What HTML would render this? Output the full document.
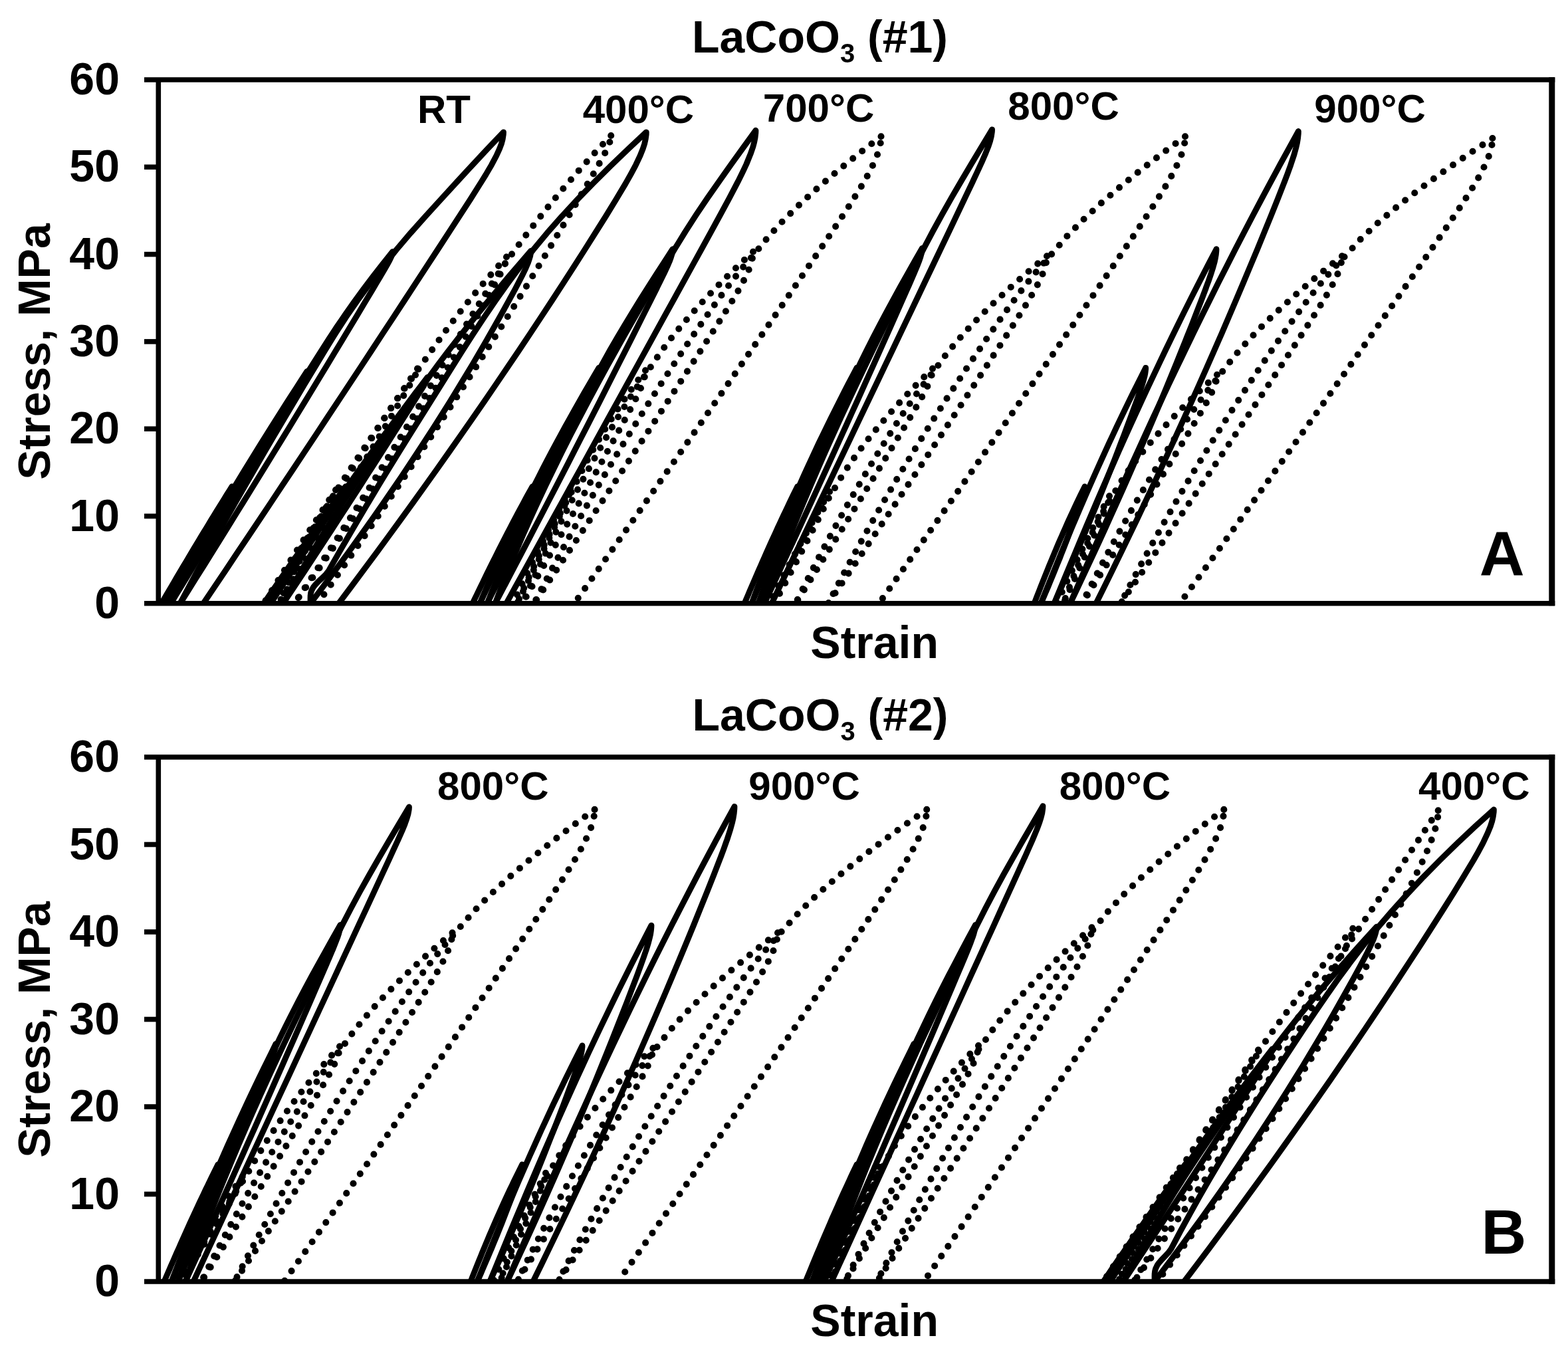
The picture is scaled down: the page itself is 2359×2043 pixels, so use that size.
<!DOCTYPE html>
<html lang="en"><head><meta charset="utf-8">
<title>LaCoO3 stress-strain hysteresis</title>
<style>html,body{margin:0;padding:0;background:#fff}body{width:2359px;height:2043px;overflow:hidden}svg{display:block}text{font-family:"Liberation Sans", Arial, Helvetica, sans-serif;font-weight:bold;fill:#000}.s{fill:none;stroke:#000;stroke-width:8.8;stroke-linejoin:round;stroke-linecap:round}.d{fill:none;stroke:#000;stroke-width:10.1;stroke-linecap:round;stroke-linejoin:round;stroke-dasharray:0 17.9}.f{fill:none;stroke:#000;stroke-width:7.6;stroke-linecap:butt;stroke-linejoin:miter}</style></head><body>
<svg width="2359" height="2043" viewBox="0 0 2359 2043">
<rect x="0" y="0" width="2359" height="2043" fill="#fff"/>
<g id="panelA">
<clipPath id="clipA"><rect x="238.3" y="120" width="2096.5" height="790.8"/></clipPath>
<g clip-path="url(#clipA)">
<path class="d" d="M505 737.1L501 743.2L497.1 749.3L493.1 755.4L489.2 761.5L485.2 767.6L481.3 773.7L477.4 779.8L473.5 785.9L469.6 792L465.7 798.1L461.8 804.2L457.9 810.3L454.1 816.4L450.2 822.5L446.3 828.6L442.5 834.6L438.7 840.7L434.8 846.8L431 852.9L427.2 859L423.4 865.1L419.6 871.2L415.8 877.3L412 883.4L408.3 889.5L404.5 895.6L400.7 901.7L397 907.8"/>
<path class="d" stroke-dashoffset="7.9" d="M505 737.1L504.9 738L504.5 739.7L503.7 741.4L502.9 743.1L502.8 743.2L501.5 745.6L499.5 749.1L499.4 749.3L497.5 752.5L495.8 755.4L495.5 755.9L492.2 761.5L488.7 767.6L485.1 773.7L481.5 779.8L477.9 785.9L474.3 792L470.7 798.1L467.1 804.2L463.5 810.3L459.9 816.4L456.2 822.5L452.6 828.6L449 834.6L445.4 840.7L441.7 846.8L438.1 852.9L434.4 859L430.8 865.1L427.1 871.2L423.4 877.3L419.7 883.4L416.1 889.5L412.4 895.6L408.7 901.7L405 907.8"/>
<path class="d" d="M628 554.6L619.5 567.2L611 579.8L602.6 592.4L594.1 605.1L585.7 617.7L577.3 630.3L568.9 642.9L560.4 655.5L552 668.1L543.6 680.7L535.2 693.4L527 706L518.8 718.6L510.7 731.2L502.8 743.8L494.9 756.4L487.1 769L479.3 781.7L471.6 794.3L463.9 806.9L456.3 819.5L448.8 832.1L441.3 844.7L433.9 857.3L426.6 870L419.3 882.6L412.1 895.2L405 907.8"/>
<path class="d" stroke-dashoffset="7.9" d="M628 554.6L627.8 556.4L626.9 559.9L625.3 563.4L623.6 567L623.4 567.2L620.6 572.3L616.5 579.3L616.2 579.8L612.4 586.4L608.8 592.4L608.2 593.5L601.3 605.1L593.9 617.7L586.4 630.3L578.9 642.9L571.4 655.5L563.9 668.1L556.3 680.7L548.8 693.4L541.2 706L533.7 718.6L526.1 731.2L518.5 743.8L510.9 756.4L503.3 769L495.7 781.7L488.1 794.3L480.5 806.9L472.8 819.5L465.2 832.1L457.5 844.7L449.8 857.3L442.1 870L434.4 882.6L426.7 895.2L419 907.8"/>
<path class="d" d="M762 386.5L745.4 405.2L729.3 423.8L713.7 442.4L698.6 461L684.1 479.6L670.1 498.2L656.7 516.9L643.5 535.5L630.4 554.1L617 572.7L603.7 591.3L590.8 609.9L578.7 628.6L566.8 647.2L555 665.8L543.3 684.4L531.8 703L520.4 721.6L509.3 740.3L498.3 758.9L487.5 777.5L476.9 796.1L466.6 814.7L456.5 833.3L446.7 852L437.2 870.6L427.9 889.2L419 907.8"/>
<path class="d" stroke-dashoffset="7.9" d="M762 386.5L761.8 389.1L760.6 394.4L758.7 399.6L756.5 404.8L756.3 405.2L752.6 412.6L747.2 423L746.8 423.8L741.5 433.5L736.7 442.4L735.8 443.9L726.4 461L716 479.6L705.5 498.2L694.8 516.9L684 535.5L673.1 554.1L662.1 572.7L651 591.3L639.7 609.9L628.4 628.6L616.9 647.2L605.2 665.8L593.5 684.4L581.6 703L569.6 721.6L557.5 740.3L545.3 758.9L532.9 777.5L520.4 796.1L507.8 814.7L495.1 833.3L482.3 852L469.3 870.6L456.2 889.2L443 907.8"/>
<path class="d" d="M919.2 204L895.5 229.2L872.8 254.3L851 279.4L829.9 304.6L809.8 329.7L790.4 354.8L771.7 380L754.1 405.1L737.6 430.2L721.8 455.4L706.3 480.5L691.2 505.6L676.4 530.8L662 555.9L647.6 581.1L633.1 606.2L618.5 631.3L603.3 656.5L588 681.6L572.4 706.7L556.8 731.9L541 757L525 782.1L508.9 807.3L492.7 832.4L476.3 857.5L459.7 882.7L443 907.8"/>
<path class="d" stroke-dashoffset="7.9" d="M919.2 204L918.9 207.6L917.1 214.6L914.3 221.6L911 228.7L910.7 229.2L905.4 239.2L897.5 253.3L896.9 254.3L889.4 267.4L882.3 279.4L881.2 281.4L867.6 304.6L852.8 329.7L837.8 354.8L822.7 380L807.5 405.1L792.2 430.2L776.7 455.4L761.1 480.5L745.5 505.6L729.6 530.8L713.7 555.9L697.7 581.1L681.5 606.2L665.2 631.3L648.8 656.5L632.2 681.6L615.6 706.7L598.8 731.9L581.9 757L564.9 782.1L547.8 807.3L530.5 832.4L513.1 857.5L495.6 882.7L478 907.8"/>
<path class="d" d="M858 734.5L854.7 740.7L851.4 746.9L848.1 753.1L844.9 759.2L841.6 765.4L838.4 771.6L835.2 777.8L832 784L828.9 790.2L825.7 796.4L822.6 802.6L819.5 808.8L816.4 815L813.3 821.1L810.2 827.3L807.2 833.5L804.1 839.7L801.1 845.9L798.1 852.1L795.2 858.3L792.2 864.5L789.3 870.7L786.3 876.9L783.4 883L780.6 889.2L777.7 895.4L774.8 901.6L772 907.8"/>
<path class="d" stroke-dashoffset="7.9" d="M858 734.5L858 735.4L857.8 737.1L857.6 738.8L857.2 740.6L857.2 740.7L856.5 743.1L855.4 746.6L855.3 746.9L854.1 750.1L852.8 753.1L852.6 753.5L850.1 759.2L847.3 765.4L844.4 771.6L841.4 777.8L838.5 784L835.5 790.2L832.6 796.4L829.6 802.6L826.6 808.8L823.6 815L820.6 821.1L817.6 827.3L814.6 833.5L811.6 839.7L808.6 845.9L805.5 852.1L802.5 858.3L799.4 864.5L796.4 870.7L793.4 876.9L790.3 883L787.2 889.2L784.2 895.4L781.1 901.6L778 907.8"/>
<path class="d" d="M971 557.2L961.6 569.7L952.4 582.3L943.5 594.8L934.9 607.3L926.6 619.8L918.5 632.4L910.7 644.9L903.2 657.4L896 669.9L889 682.4L882.3 695L875.9 707.5L869.7 720L863.9 732.5L857.2 745L850.5 757.6L843.9 770.1L837.4 782.6L831 795.1L824.7 807.6L818.5 820.2L812.4 832.7L806.5 845.2L800.6 857.7L794.8 870.2L789.1 882.8L783.5 895.3L778 907.8"/>
<path class="d" stroke-dashoffset="7.9" d="M971 557.2L971 559L970.6 562.5L970 566L969.2 569.5L969.1 569.7L967.6 574.8L964.9 581.8L964.7 582.3L961.9 588.8L959.1 594.8L958.6 595.8L952.8 607.3L946.2 619.8L939.5 632.4L932.7 644.9L925.9 657.4L919 669.9L912.1 682.4L905.3 695L898.4 707.5L891.4 720L884.5 732.5L877.6 745L870.6 757.6L863.6 770.1L856.6 782.6L849.6 795.1L842.6 807.6L835.6 820.2L828.6 832.7L821.5 845.2L814.4 857.7L807.3 870.2L800.2 882.8L793.1 895.3L786 907.8"/>
<path class="d" d="M1133 378.7L1112.8 397.6L1093.3 416.5L1074.6 435.4L1056.7 454.3L1039.6 473.2L1023.4 492L1008.1 510.9L994 529.8L981.2 548.7L968.5 567.6L955.5 586.5L943.4 605.4L931.8 624.3L920.6 643.2L909.8 662.1L899.1 681L888.7 699.9L878.5 718.8L868.4 737.7L858.6 756.6L848.9 775.5L839.4 794.4L830 813.3L820.9 832.2L811.9 851.1L803.1 870L794.4 888.9L786 907.8"/>
<path class="d" stroke-dashoffset="7.9" d="M1133 378.7L1132.9 381.3L1132.3 386.6L1131.2 391.9L1129.7 397.2L1129.6 397.6L1126.9 405.1L1122.2 415.7L1121.8 416.5L1116.7 426.3L1111.7 435.4L1110.9 436.9L1100.6 454.3L1088.8 473.2L1076.9 492L1064.8 510.9L1052.6 529.8L1040.4 548.7L1028.2 567.6L1015.9 586.5L1003.6 605.4L991.3 624.3L979 643.2L966.6 662.1L954.2 681L941.8 699.9L929.3 718.8L916.9 737.7L904.4 756.6L891.8 775.5L879.3 794.4L866.7 813.3L854.1 832.2L841.5 851.1L828.9 870L816.2 888.9L803.5 907.8"/>
<path class="d" d="M1325.5 205.3L1293 230.4L1262 255.5L1232.6 280.6L1204.9 305.7L1179.3 330.8L1156.2 355.9L1135.9 381L1114.5 406L1095 431.1L1076.6 456.2L1058.9 481.3L1041.6 506.4L1024.7 531.5L1008.1 556.6L991.7 581.7L975.7 606.7L959.9 631.8L944.3 656.9L929 682L914 707.1L899.3 732.2L884.8 757.3L870.6 782.4L856.6 807.4L842.9 832.5L829.5 857.6L816.4 882.7L803.5 907.8"/>
<path class="d" stroke-dashoffset="7.9" d="M1325.5 205.3L1325.4 208.9L1324.6 215.9L1323 222.9L1320.9 229.9L1320.8 230.4L1316.9 240.5L1310.3 254.5L1309.8 255.5L1302.7 268.6L1295.7 280.6L1294.5 282.6L1280.1 305.7L1263.7 330.8L1246.9 355.9L1230 381L1212.9 406L1195.8 431.1L1178.7 456.2L1161.5 481.3L1144.3 506.4L1127 531.5L1109.7 556.6L1092.4 581.7L1075.1 606.7L1057.7 631.8L1040.2 656.9L1022.8 682L1005.3 707.1L987.7 732.2L970.2 757.3L952.6 782.4L934.9 807.4L917.2 832.5L899.5 857.6L881.8 882.7L864 907.8"/>
<path class="d" d="M1248 739.7L1244.5 745.7L1241.1 751.7L1237.7 757.7L1234.3 763.7L1230.9 769.7L1227.5 775.7L1224.2 781.8L1220.8 787.8L1217.5 793.8L1214.2 799.8L1210.9 805.8L1207.7 811.8L1204.4 817.8L1201.2 823.8L1198 829.8L1194.8 835.8L1191.6 841.8L1188.5 847.8L1185.4 853.8L1182.2 859.8L1179.2 865.8L1176.1 871.8L1173 877.8L1170 883.8L1167 889.8L1164 895.8L1161 901.8L1158 907.8"/>
<path class="d" stroke-dashoffset="7.9" d="M1248 739.7L1248 740.6L1247.8 742.3L1247.6 743.9L1247.2 745.6L1247.1 745.7L1246.5 748.1L1245.3 751.5L1245.2 751.7L1243.9 754.9L1242.6 757.7L1242.4 758.2L1239.8 763.7L1236.9 769.7L1233.9 775.7L1230.8 781.8L1227.8 787.8L1224.7 793.8L1221.6 799.8L1218.5 805.8L1215.4 811.8L1212.3 817.8L1209.2 823.8L1206.1 829.8L1203 835.8L1199.8 841.8L1196.7 847.8L1193.6 853.8L1190.4 859.8L1187.3 865.8L1184.1 871.8L1180.9 877.8L1177.8 883.8L1174.6 889.8L1171.4 895.8L1168.2 901.8L1165 907.8"/>
<path class="d" d="M1403 554.6L1390.2 567.2L1377.7 579.8L1365.6 592.4L1353.8 605.1L1342.4 617.7L1331.4 630.3L1320.7 642.9L1310.3 655.5L1300.4 668.1L1290.9 680.7L1281.8 693.4L1273.2 706L1265.2 718.6L1257.7 731.2L1250.3 743.8L1242.3 756.4L1234.6 769L1227.3 781.7L1220.3 794.3L1213.5 806.9L1206.9 819.5L1200.5 832.1L1194.3 844.7L1188.2 857.3L1182.2 870L1176.3 882.6L1170.6 895.2L1165 907.8"/>
<path class="d" stroke-dashoffset="7.9" d="M1403 554.6L1403 556.4L1402.6 559.9L1401.9 563.4L1401 567L1400.9 567.2L1399.2 572.3L1396.2 579.3L1396 579.8L1392.8 586.4L1389.7 592.4L1389.2 593.5L1382.7 605.1L1375.4 617.7L1367.9 630.3L1360.4 642.9L1352.8 655.5L1345.1 668.1L1337.5 680.7L1329.8 693.4L1322.1 706L1314.4 718.6L1306.7 731.2L1299 743.8L1291.2 756.4L1283.4 769L1275.7 781.7L1267.9 794.3L1260.1 806.9L1252.2 819.5L1244.4 832.1L1236.5 844.7L1228.7 857.3L1220.8 870L1212.9 882.6L1204.9 895.2L1197 907.8"/>
<path class="d" d="M1575 385.2L1552.6 403.9L1531.1 422.6L1510.5 441.2L1490.7 459.9L1471.9 478.5L1454.1 497.2L1437.6 515.9L1422.4 534.5L1408.9 553.2L1394.2 571.9L1380.4 590.5L1367.3 609.2L1354.8 627.8L1342.8 646.5L1331 665.2L1319.5 683.8L1308.2 702.5L1297.1 721.2L1286.2 739.8L1275.5 758.5L1265 777.2L1254.7 795.8L1244.6 814.5L1234.7 833.1L1225 851.8L1215.5 870.5L1206.1 889.1L1197 907.8"/>
<path class="d" stroke-dashoffset="7.9" d="M1575 385.2L1574.9 387.8L1574.3 393.1L1573.2 398.3L1571.7 403.5L1571.6 403.9L1568.9 411.4L1564.2 421.8L1563.8 422.6L1558.8 432.3L1553.8 441.2L1552.9 442.7L1542.6 459.9L1530.9 478.5L1519 497.2L1506.9 515.9L1494.7 534.5L1482.6 553.2L1470.3 571.9L1458.1 590.5L1445.8 609.2L1433.5 627.8L1421.2 646.5L1408.8 665.2L1396.5 683.8L1384.1 702.5L1371.6 721.2L1359.2 739.8L1346.7 758.5L1334.2 777.2L1321.7 795.8L1309.1 814.5L1296.6 833.1L1284 851.8L1271.3 870.5L1258.7 889.1L1246 907.8"/>
<path class="d" d="M1783 205.3L1749 230.4L1716.5 255.5L1685.7 280.6L1656.5 305.7L1629.4 330.8L1604.7 355.9L1583.3 381L1561.4 406L1541.1 431.1L1522.2 456.2L1504.1 481.3L1486.6 506.4L1469.5 531.5L1452.6 556.6L1436.1 581.7L1419.8 606.7L1403.8 631.8L1388.1 656.9L1372.7 682L1357.5 707.1L1342.6 732.2L1328 757.3L1313.6 782.4L1299.6 807.4L1285.8 832.5L1272.2 857.6L1259 882.7L1246 907.8"/>
<path class="d" stroke-dashoffset="7.9" d="M1783 205.3L1782.9 208.9L1782.1 215.9L1780.5 222.9L1778.4 229.9L1778.3 230.4L1774.4 240.5L1767.8 254.5L1767.3 255.5L1760.3 268.6L1753.3 280.6L1752.1 282.6L1737.6 305.7L1721.3 330.8L1704.6 355.9L1687.7 381L1670.7 406L1653.6 431.1L1636.5 456.2L1619.4 481.3L1602.2 506.4L1585 531.5L1567.7 556.6L1550.4 581.7L1533.1 606.7L1515.8 631.8L1498.4 656.9L1480.9 682L1463.5 707.1L1446 732.2L1428.4 757.3L1410.9 782.4L1393.3 807.4L1375.6 832.5L1358 857.6L1340.2 882.7L1322.5 907.8"/>
<path class="d" d="M1669 746.3L1666 752.1L1662.9 757.8L1659.9 763.6L1656.9 769.4L1654 775.1L1651 780.9L1648.1 786.7L1645.1 792.4L1642.2 798.2L1639.3 804L1636.5 809.7L1633.6 815.5L1630.7 821.3L1627.9 827.1L1625.1 832.8L1622.3 838.6L1619.5 844.4L1616.8 850.1L1614 855.9L1611.3 861.7L1608.6 867.4L1605.9 873.2L1603.2 879L1600.5 884.7L1597.9 890.5L1595.2 896.3L1592.6 902L1590 907.8"/>
<path class="d" stroke-dashoffset="7.9" d="M1669 746.3L1669 747.1L1668.9 748.7L1668.6 750.3L1668.3 752L1668.3 752.1L1667.7 754.4L1666.7 757.6L1666.7 757.8L1665.6 760.8L1664.5 763.6L1664.4 764.1L1662.2 769.4L1659.8 775.1L1657.2 780.9L1654.7 786.7L1652.2 792.4L1649.6 798.2L1647 804L1644.5 809.7L1641.9 815.5L1639.3 821.3L1636.7 827.1L1634.2 832.8L1631.6 838.6L1629 844.4L1626.4 850.1L1623.7 855.9L1621.1 861.7L1618.5 867.4L1615.9 873.2L1613.2 879L1610.6 884.7L1608 890.5L1605.3 896.3L1602.7 902L1600 907.8"/>
<path class="d" d="M1831 563.8L1817.6 576.1L1804.6 588.4L1791.9 600.7L1779.6 612.9L1767.6 625.2L1756 637.5L1744.8 649.8L1734 662.1L1723.6 674.4L1713.6 686.7L1704.2 698.9L1695.3 711.2L1687.2 723.5L1679.7 735.8L1672.8 748.1L1665.2 760.4L1658.1 772.7L1651.6 784.9L1645.4 797.2L1639.6 809.5L1634.1 821.8L1628.7 834.1L1623.6 846.4L1618.6 858.7L1613.7 870.9L1609 883.2L1604.5 895.5L1600 907.8"/>
<path class="d" stroke-dashoffset="7.9" d="M1831 563.8L1831 565.5L1830.6 569L1829.9 572.4L1829 575.8L1828.9 576.1L1827.2 581L1824.3 587.9L1824.1 588.4L1821 594.8L1817.9 600.7L1817.4 601.6L1811 612.9L1803.8 625.2L1796.4 637.5L1789 649.8L1781.5 662.1L1774 674.4L1766.4 686.7L1758.9 698.9L1751.3 711.2L1743.7 723.5L1736.1 735.8L1728.5 748.1L1720.8 760.4L1713.2 772.7L1705.5 784.9L1697.8 797.2L1690.1 809.5L1682.4 821.8L1674.7 834.1L1667 846.4L1659.2 858.7L1651.4 870.9L1643.6 883.2L1635.8 895.5L1628 907.8"/>
<path class="d" d="M2019 385.2L1995.7 403.9L1973.2 422.6L1951.6 441.2L1930.9 459.9L1911.1 478.5L1892.2 497.2L1874.6 515.9L1858.2 534.5L1843.5 553.2L1829.3 571.9L1814.6 590.5L1801 609.2L1788.1 627.8L1775.7 646.5L1763.7 665.2L1752 683.8L1740.5 702.5L1729.3 721.2L1718.3 739.8L1707.4 758.5L1696.8 777.2L1686.4 795.8L1676.1 814.5L1666.1 833.1L1656.3 851.8L1646.7 870.5L1637.2 889.1L1628 907.8"/>
<path class="d" stroke-dashoffset="7.9" d="M2019 385.2L2018.9 387.8L2018.3 393.1L2017.2 398.3L2015.7 403.5L2015.6 403.9L2012.8 411.4L2008 421.8L2007.7 422.6L2002.6 432.3L1997.5 441.2L1996.6 442.7L1986.2 459.9L1974.4 478.5L1962.3 497.2L1950.1 515.9L1937.8 534.5L1925.4 553.2L1913.1 571.9L1900.7 590.5L1888.2 609.2L1875.8 627.8L1863.3 646.5L1850.8 665.2L1838.3 683.8L1825.7 702.5L1813.2 721.2L1800.6 739.8L1787.9 758.5L1775.3 777.2L1762.6 795.8L1749.9 814.5L1737.2 833.1L1724.4 851.8L1711.6 870.5L1698.8 889.1L1686 907.8"/>
<path class="d" d="M2245.4 208L2207.7 233L2171.8 258L2137.7 283L2105.5 307.9L2075.6 332.9L2048.7 357.9L2025.9 382.9L2002.5 407.9L1981.5 432.9L1962.3 457.9L1944.1 482.9L1926.4 507.9L1909.2 532.9L1892.3 557.9L1875.7 582.9L1859.4 607.9L1843.4 632.9L1827.6 657.9L1812.2 682.9L1797 707.8L1782.1 732.8L1767.6 757.8L1753.2 782.8L1739.2 807.8L1725.5 832.8L1712 857.8L1698.9 882.8L1686 907.8"/>
<path class="d" stroke-dashoffset="7.9" d="M2245.4 208L2245.3 211.5L2244.4 218.5L2242.9 225.5L2240.7 232.5L2240.6 233L2236.6 243L2229.9 257L2229.4 258L2222.2 271L2215 283L2213.8 285L2199.1 307.9L2182.4 332.9L2165.3 357.9L2148 382.9L2130.7 407.9L2113.2 432.9L2095.8 457.9L2078.2 482.9L2060.7 507.9L2043.1 532.9L2025.5 557.9L2007.8 582.9L1990.1 607.9L1972.4 632.9L1954.6 657.9L1936.8 682.9L1919 707.8L1901.1 732.8L1883.2 757.8L1865.3 782.8L1847.3 807.8L1829.3 832.8L1811.2 857.8L1793.1 882.8L1775 907.8"/>
<path class="s" d="M243 907.8L246.7 901.5L250.3 895.2L254 888.9L257.7 882.7L261.4 876.4L265.1 870.1L268.8 863.8L272.5 857.5L276.2 851.2L280 845L283.7 838.7L287.4 832.4L291.2 826.1L295 819.8L298.8 813.5L302.5 807.3L306.3 801L310.2 794.7L314 788.4L317.8 782.1L321.7 775.8L325.5 769.6L329.4 763.3L333.3 757L337.2 750.7L341.1 744.4L345.1 738.1L349 731.9L348.9 732.7L348.4 734.5L347.6 736.3L346.7 738L346.7 738.1L345.3 740.7L343.4 744.2L343.2 744.4L341.4 747.7L339.7 750.7L339.5 751.2L336.2 757L332.7 763.3L329.2 769.6L325.7 775.8L322.2 782.1L318.6 788.4L315.1 794.7L311.5 801L308 807.3L304.4 813.5L300.8 819.8L297.3 826.1L293.7 832.4L290.1 838.7L286.5 845L282.9 851.2L279.2 857.5L275.6 863.8L272 870.1L268.3 876.4L264.7 882.7L261 888.9L257.4 895.2L253.7 901.5L250 907.8"/>
<path class="s" d="M250 907.8L257 895.3L264.1 882.9L271.3 870.4L278.4 857.9L285.6 845.4L292.9 833L300.2 820.5L307.5 808L314.9 795.5L322.2 783.1L329.7 770.6L337.2 758.1L344.7 745.6L352.2 733.2L359.8 720.7L367.4 708.2L375.1 695.8L382.8 683.3L390.5 670.8L398.3 658.3L406.1 645.9L414 633.4L421.9 620.9L429.8 608.4L437.8 596L445.8 583.5L453.9 571L462 558.5L461.8 560.3L460.7 563.8L459.1 567.3L457.3 570.8L457.1 571L454.3 576L450.3 583L450 583.5L446.3 590L442.8 596L442.2 597L435.6 608.4L428.3 620.9L421 633.4L413.7 645.9L406.4 658.3L399.1 670.8L391.8 683.3L384.4 695.8L377.1 708.2L369.7 720.7L362.3 733.2L354.9 745.6L347.4 758.1L340 770.6L332.5 783.1L325 795.5L317.5 808L310 820.5L302.5 833L294.9 845.4L287.4 857.9L279.8 870.4L272.2 882.9L264.6 895.3L257 907.8"/>
<path class="s" d="M257 907.8L267.5 888.9L278.1 870L288.8 851.1L299.6 832.2L310.4 813.3L321.3 794.4L332.3 775.5L343.4 756.6L354.5 737.7L365.7 718.8L377 699.9L388.4 681L399.8 662.1L411.3 643.2L422.9 624.3L434.6 605.4L446.4 586.5L458.3 567.6L470.2 548.7L482.1 529.8L494.2 510.9L506.6 492L519.4 473.2L532.7 454.3L546.5 435.4L560.8 416.5L575.4 397.6L590.5 378.7L590.2 381.3L588.5 386.6L586 391.9L583.1 397.2L582.9 397.6L578.6 405.1L572.3 415.7L571.9 416.5L566 426.3L560.6 435.4L559.7 436.9L549.3 454.3L538 473.2L526.7 492L515.3 510.9L503.9 529.8L492.5 548.7L481.1 567.6L469.6 586.5L458.1 605.4L446.6 624.3L435.1 643.2L423.5 662.1L411.9 681L400.3 699.9L388.7 718.8L377 737.7L365.3 756.6L353.6 775.5L341.9 794.4L330.1 813.3L318.4 832.2L306.6 851.1L294.7 870L282.9 888.9L271 907.8"/>
<path class="s" d="M271 907.8L284.4 882.5L298 857.2L311.8 831.8L325.8 806.5L339.9 781.2L354.2 755.9L368.7 730.5L383.3 705.2L398 679.9L412.8 654.6L427.8 629.3L442.8 603.9L457.9 578.6L473.2 553.3L488.4 528L504 502.6L520.4 477.3L537.9 452L556.4 426.7L575.9 401.4L596.1 376L617.6 350.7L640.2 325.4L663.2 300.1L686.4 274.7L709.7 249.4L733.4 224.1L757.5 198.8L757.3 202.3L756.2 209.4L754.3 216.5L751.6 223.6L751.4 224.1L746.8 234.2L739.3 248.4L738.7 249.4L731 262.6L723.5 274.7L722.2 276.8L707.5 300.1L691.1 325.4L674.7 350.7L658.2 376L641.6 401.4L625.1 426.7L608.5 452L591.9 477.3L575.2 502.6L558.6 528L541.9 553.3L525.2 578.6L508.5 603.9L491.7 629.3L475 654.6L458.2 679.9L441.4 705.2L424.5 730.5L407.7 755.9L390.8 781.2L373.9 806.5L356.9 831.8L340 857.2L323 882.5L306 907.8"/>
<path class="s" d="M397 907.8L401.3 901.5L405.5 895.2L409.8 888.9L414.1 882.7L418.4 876.4L422.7 870.1L427.1 863.8L431.4 857.5L435.7 851.2L440.1 845L444.4 838.7L448.8 832.4L453.2 826.1L457.6 819.8L462 813.5L466.4 807.3L470.8 801L475.2 794.7L479.7 788.4L484.1 782.1L488.6 775.8L493 769.6L497.5 763.3L502 757L506.5 750.7L511 744.4L515.5 738.1L520 731.9L519.9 732.7L519.3 734.5L518.4 736.3L517.4 738L517.3 738.1L515.8 740.7L513.6 744.2L513.4 744.4L511.3 747.7L509.4 750.7L509.1 751.2L505.4 757L501.4 763.3L497.4 769.6L493.4 775.8L489.4 782.1L485.3 788.4L481.3 794.7L477.2 801L473.2 807.3L469.1 813.5L465 819.8L460.9 826.1L456.8 832.4L452.7 838.7L448.6 845L444.5 851.2L440.4 857.5L436.2 863.8L432.1 870.1L427.9 876.4L423.8 882.7L419.6 888.9L415.4 895.2L411.2 901.5L407 907.8"/>
<path class="s" d="M407 907.8L414.6 895.7L422.2 883.5L430 871.4L437.7 859.2L445.6 847.1L453.5 834.9L461.5 822.8L469.5 810.6L477.6 798.5L485.7 786.3L494 774.2L502.2 762.1L510.5 749.9L518.9 737.8L527.3 725.6L535.8 713.5L544.4 701.3L553 689.2L561.7 677L570.5 664.9L579.4 652.7L588.3 640.6L597.2 628.5L606.3 616.3L615.4 604.2L624.5 592L633.7 579.9L643 567.7L642.8 569.4L641.7 572.8L639.9 576.2L638 579.6L637.9 579.9L634.9 584.7L630.6 591.5L630.3 592L626.4 598.3L622.7 604.2L622.1 605.1L615 616.3L607.3 628.5L599.6 640.6L591.9 652.7L584.2 664.9L576.4 677L568.7 689.2L560.9 701.3L553.1 713.5L545.3 725.6L537.4 737.8L529.6 749.9L521.7 762.1L513.8 774.2L505.9 786.3L498 798.5L490.1 810.6L482.1 822.8L474.2 834.9L466.2 847.1L458.2 859.2L450.2 871.4L442.1 883.5L434.1 895.7L426 907.8"/>
<path class="s" d="M426 907.8L436.4 888.9L447 869.9L457.8 851L469 832L480.3 813.1L491.9 794.1L503.7 775.2L515.7 756.2L527.9 737.3L540.4 718.4L553 699.4L565.7 680.5L578.7 661.5L591.8 642.6L605.1 623.6L618.5 604.7L632 585.7L645.7 566.8L659.6 547.9L673.9 528.9L688.6 510L703.6 491L718.9 472.1L734.4 453.1L750.2 434.2L766.2 415.2L782.4 396.3L798.7 377.3L798.6 380L797.7 385.3L796.1 390.6L794.2 395.9L794 396.3L790.8 403.9L785.6 414.5L785.2 415.2L780.2 425.1L775.4 434.2L774.6 435.7L765.1 453.1L754.6 472.1L744 491L733.2 510L722.2 528.9L711.1 547.9L699.7 566.8L688.2 585.7L676.6 604.7L664.8 623.6L652.8 642.6L640.6 661.5L628.2 680.5L615.7 699.4L603.1 718.4L590.2 737.3L577.2 756.2L564 775.2L550.7 794.1L537.1 813.1L523.5 832L509.6 851L495.6 869.9L481.4 888.9L467 907.8"/>
<path class="s" d="M467 907.8L467 903.9L467 899.9L467.1 896L467.6 892L468.9 888.1L471 884.2L472.1 882.5L473.9 880.2L478.8 875L484.5 869.7L490 864.5L494.1 859.2L495.3 857.2L509.7 831.8L524.4 806.5L539.2 781.2L554.2 755.9L569.4 730.5L584.8 705.2L600.4 679.9L616.1 654.6L631.9 629.3L647.9 603.9L663.7 578.6L679.5 553.3L695.5 528L711.7 502.6L728.4 477.3L745.6 452L763.6 426.7L782.3 401.4L802 376L823 350.7L845.3 325.4L868.8 300.1L893.4 274.7L918.9 249.4L945.2 224.1L972.3 198.8L972.2 202.3L971.2 209.4L969.6 216.5L967.3 223.6L967.1 224.1L963.1 234.2L956.4 248.4L955.9 249.4L948.8 262.6L942 274.7L940.8 276.8L926.9 300.1L911.4 325.4L895.5 350.7L879.5 376L863.3 401.4L847 426.7L830.5 452L813.8 477.3L797.1 502.6L780.2 528L763.1 553.3L745.9 578.6L728.6 603.9L711.1 629.3L693.5 654.6L675.7 679.9L657.8 705.2L639.8 730.5L621.6 755.9L603.3 781.2L584.8 806.5L566.2 831.8L547.4 857.2L528.5 882.5L509.5 907.8"/>
<path class="s" d="M711 907.8L714 901.5L717.1 895.2L720.1 888.9L723.1 882.7L726.2 876.4L729.2 870.1L732.3 863.8L735.4 857.5L738.5 851.2L741.6 845L744.8 838.7L747.9 832.4L751.1 826.1L754.3 819.8L757.5 813.5L760.7 807.3L763.9 801L767.2 794.7L770.5 788.4L773.8 782.1L777.1 775.8L780.4 769.6L783.8 763.3L787.2 757L790.6 750.7L794 744.4L797.5 738.1L801 731.9L801 732.7L800.7 734.5L800.2 736.3L799.6 738L799.5 738.1L798.5 740.7L797.1 744.2L796.9 744.4L795.5 747.7L794.2 750.7L793.9 751.2L791.4 757L788.5 763.3L785.7 769.6L782.9 775.8L780 782.1L777.2 788.4L774.3 794.7L771.5 801L768.6 807.3L765.8 813.5L762.9 819.8L760 826.1L757.1 832.4L754.2 838.7L751.3 845L748.4 851.2L745.5 857.5L742.6 863.8L739.7 870.1L736.7 876.4L733.8 882.7L730.9 888.9L727.9 895.2L725 901.5L722 907.8"/>
<path class="s" d="M722 907.8L727.3 895.1L732.7 882.5L738.2 869.8L743.8 857.2L749.4 844.5L755.1 831.8L761 819.2L766.8 806.5L772.8 793.9L778.8 781.2L784.9 768.5L791.1 755.9L797.3 743.2L803.7 730.5L810.1 717.9L816.5 705.2L823.1 692.6L829.8 679.9L836.5 667.2L843.4 654.6L850.3 641.9L857.3 629.3L864.4 616.6L871.6 603.9L878.8 591.3L886.1 578.6L893.5 566L901 553.3L900.9 555.1L900.3 558.6L899.2 562.2L898 565.7L897.9 566L895.8 571L892.6 578.1L892.4 578.6L889.3 585.2L886.5 591.3L886 592.3L880.5 603.9L874.5 616.6L868.5 629.3L862.5 641.9L856.4 654.6L850.4 667.2L844.3 679.9L838.2 692.6L832.2 705.2L826.1 717.9L819.9 730.5L813.8 743.2L807.7 755.9L801.5 768.5L795.4 781.2L789.2 793.9L783 806.5L776.8 819.2L770.6 831.8L764.3 844.5L758.1 857.2L751.8 869.8L745.6 882.5L739.3 895.1L733 907.8"/>
<path class="s" d="M733 907.8L740.6 888.8L748.4 869.7L756.4 850.7L764.6 831.6L773 812.6L781.6 793.6L790.4 774.5L799.3 755.5L808.4 736.5L817.7 717.4L827.1 698.4L836.7 679.3L846.3 660.3L856.2 641.3L866.1 622.2L876.2 603.2L886.3 584.1L896.6 565.1L907 546.1L917.6 527L928.6 508L939.9 489L951.4 469.9L963.2 450.9L975.2 431.8L987.3 412.8L999.6 393.8L1012 374.7L1011.9 377.4L1010.8 382.7L1009.2 388L1007.2 393.4L1007 393.8L1003.7 401.4L998.7 412L998.3 412.8L993.4 422.7L988.9 431.8L988.2 433.4L979.4 450.9L969.9 469.9L960.3 489L950.8 508L941.2 527L931.5 546.1L921.9 565.1L912.3 584.1L902.6 603.2L892.9 622.2L883.2 641.3L873.4 660.3L863.7 679.3L853.9 698.4L844.1 717.4L834.3 736.5L824.4 755.5L814.6 774.5L804.7 793.6L794.8 812.6L784.9 831.6L774.9 850.7L765 869.7L755 888.8L745 907.8"/>
<path class="s" d="M745 907.8L754.7 882.4L764.8 857L775.4 831.6L786.3 806.1L797.5 780.7L809.1 755.3L821.1 729.9L833.4 704.5L845.9 679.1L858.8 653.6L872 628.2L885.4 602.8L899 577.4L912.9 552L927 526.6L941.3 501.1L955.8 475.7L970.5 450.3L985.3 424.9L1000.3 399.5L1015.4 374.1L1031 348.6L1047.4 323.2L1064.5 297.8L1082.2 272.4L1100.2 247L1118.5 221.6L1137 196.2L1136.9 199.7L1136.1 206.8L1134.7 213.9L1132.8 221.1L1132.6 221.6L1129.1 231.7L1123.3 246L1122.9 247L1116.7 260.2L1110.7 272.4L1109.6 274.4L1097.4 297.8L1083.7 323.2L1069.8 348.6L1055.8 374.1L1041.8 399.5L1027.8 424.9L1013.8 450.3L999.8 475.7L985.8 501.1L971.8 526.6L957.8 552L943.8 577.4L929.8 602.8L915.8 628.2L901.8 653.6L887.8 679.1L873.8 704.5L859.7 729.9L845.7 755.3L831.7 780.7L817.7 806.1L803.7 831.6L789.7 857L775.7 882.4L761.7 907.8"/>
<path class="s" d="M1120 907.8L1122.7 901.5L1125.4 895.2L1128 888.9L1130.7 882.7L1133.4 876.4L1136.2 870.1L1138.9 863.8L1141.6 857.5L1144.4 851.2L1147.1 845L1149.9 838.7L1152.7 832.4L1155.5 826.1L1158.3 819.8L1161.1 813.5L1164 807.3L1166.9 801L1169.7 794.7L1172.7 788.4L1175.6 782.1L1178.5 775.8L1181.5 769.6L1184.5 763.3L1187.5 757L1190.5 750.7L1193.5 744.4L1196.6 738.1L1199.7 731.9L1199.7 732.7L1199.4 734.5L1199 736.3L1198.5 738L1198.4 738.1L1197.6 740.7L1196.3 744.2L1196.2 744.4L1194.9 747.7L1193.8 750.7L1193.6 751.2L1191.3 757L1188.9 763.3L1186.4 769.6L1183.9 775.8L1181.5 782.1L1179 788.4L1176.5 794.7L1174 801L1171.5 807.3L1169.1 813.5L1166.6 819.8L1164 826.1L1161.5 832.4L1159 838.7L1156.5 845L1154 851.2L1151.4 857.5L1148.9 863.8L1146.4 870.1L1143.8 876.4L1141.3 882.7L1138.7 888.9L1136.1 895.2L1133.6 901.5L1131 907.8"/>
<path class="s" d="M1131 907.8L1135.6 895.1L1140.3 882.5L1145.1 869.8L1150 857.2L1154.9 844.5L1159.9 831.8L1165 819.2L1170.2 806.5L1175.4 793.9L1180.7 781.2L1186.1 768.5L1191.5 755.9L1197 743.2L1202.6 730.5L1208.2 717.9L1214 705.2L1219.8 692.6L1225.7 679.9L1231.6 667.2L1237.7 654.6L1243.9 641.9L1250.1 629.3L1256.4 616.6L1262.8 603.9L1269.2 591.3L1275.7 578.6L1282.3 566L1289 553.3L1288.9 555.1L1288.4 558.6L1287.4 562.2L1286.3 565.7L1286.2 566L1284.4 571L1281.6 578.1L1281.4 578.6L1278.7 585.2L1276.2 591.3L1275.8 592.3L1270.9 603.9L1265.7 616.6L1260.4 629.3L1255.1 641.9L1249.7 654.6L1244.4 667.2L1239.1 679.9L1233.7 692.6L1228.4 705.2L1223 717.9L1217.6 730.5L1212.2 743.2L1206.8 755.9L1201.4 768.5L1195.9 781.2L1190.5 793.9L1185 806.5L1179.6 819.2L1174.1 831.8L1168.6 844.5L1163.1 857.2L1157.6 869.8L1152.1 882.5L1146.5 895.1L1141 907.8"/>
<path class="s" d="M1141 907.8L1147.7 888.7L1154.7 869.6L1161.8 850.5L1169.1 831.5L1176.5 812.4L1184.2 793.3L1191.9 774.2L1199.8 755.1L1207.9 736L1216.1 716.9L1224.4 697.9L1232.9 678.8L1241.4 659.7L1250.1 640.6L1258.9 621.5L1267.7 602.4L1276.7 583.3L1285.8 564.3L1294.9 545.2L1304.3 526.1L1314 507L1323.9 487.9L1334.1 468.8L1344.4 449.8L1354.9 430.7L1365.6 411.6L1376.4 392.5L1387.3 373.4L1387.2 376.1L1386.3 381.4L1384.8 386.8L1383 392.1L1382.9 392.5L1379.9 400.1L1375.4 410.8L1375.1 411.6L1370.8 421.5L1366.8 430.7L1366.1 432.2L1358.3 449.8L1349.9 468.8L1341.4 487.9L1332.9 507L1324.3 526.1L1315.8 545.2L1307.2 564.3L1298.7 583.3L1290.1 602.4L1281.4 621.5L1272.8 640.6L1264.1 659.7L1255.5 678.8L1246.8 697.9L1238.1 716.9L1229.4 736L1220.6 755.1L1211.8 774.2L1203.1 793.3L1194.3 812.4L1185.4 831.5L1176.6 850.5L1167.8 869.6L1158.9 888.7L1150 907.8"/>
<path class="s" d="M1150 907.8L1159.2 882.3L1168.7 856.9L1178.4 831.4L1188.4 805.9L1198.7 780.5L1209.2 755L1220 729.6L1231 704.1L1242.2 678.6L1253.6 653.2L1265.2 627.7L1277.1 602.2L1289 576.8L1301.2 551.3L1313.5 525.9L1326 500.4L1338.6 474.9L1351.3 449.5L1364.2 424L1377.1 398.5L1390.2 373.1L1403.6 347.6L1417.6 322.2L1432 296.7L1446.8 271.2L1461.9 245.8L1477.2 220.3L1492.6 194.8L1492.4 198.4L1491.3 205.5L1489.5 212.7L1487.1 219.8L1486.9 220.3L1482.9 230.5L1476.7 244.7L1476.2 245.8L1470.1 259L1464.4 271.2L1463.4 273.3L1452.3 296.7L1440.2 322.2L1428.1 347.6L1415.9 373.1L1403.8 398.5L1391.6 424L1379.5 449.5L1367.4 474.9L1355.2 500.4L1343.1 525.9L1330.9 551.3L1318.8 576.8L1306.7 602.2L1294.5 627.7L1282.4 653.2L1270.3 678.6L1258.1 704.1L1246 729.6L1233.8 755L1221.7 780.5L1209.6 805.9L1197.4 831.4L1185.3 856.9L1173.1 882.3L1161 907.8"/>
<path class="s" d="M1556 907.8L1558.4 901.5L1560.9 895.2L1563.4 888.9L1565.8 882.7L1568.3 876.4L1570.8 870.1L1573.3 863.8L1575.9 857.5L1578.4 851.2L1581 845L1583.6 838.7L1586.2 832.4L1588.9 826.1L1591.5 819.8L1594.2 813.5L1597 807.3L1599.7 801L1602.5 794.7L1605.3 788.4L1608.1 782.1L1611 775.8L1613.9 769.6L1616.8 763.3L1619.8 757L1622.8 750.7L1625.8 744.4L1628.9 738.1L1632 731.9L1632 732.7L1631.8 734.5L1631.6 736.3L1631.2 738L1631.2 738.1L1630.6 740.7L1629.6 744.2L1629.5 744.4L1628.4 747.7L1627.5 750.7L1627.3 751.2L1625.3 757L1623.1 763.3L1620.9 769.6L1618.6 775.8L1616.3 782.1L1614 788.4L1611.7 794.7L1609.3 801L1606.9 807.3L1604.6 813.5L1602.1 819.8L1599.7 826.1L1597.2 832.4L1594.8 838.7L1592.2 845L1589.7 851.2L1587.2 857.5L1584.6 863.8L1582 870.1L1579.4 876.4L1576.8 882.7L1574.1 888.9L1571.4 895.2L1568.7 901.5L1566 907.8"/>
<path class="s" d="M1566 907.8L1571.1 895.1L1576.2 882.5L1581.3 869.8L1586.4 857.2L1591.6 844.5L1596.7 831.8L1602 819.2L1607.2 806.5L1612.5 793.9L1617.9 781.2L1623.3 768.5L1628.7 755.9L1634.2 743.2L1639.8 730.5L1645.3 717.9L1651 705.2L1656.7 692.6L1662.5 679.9L1668.3 667.2L1674.2 654.6L1680.1 641.9L1686.1 629.3L1692.2 616.6L1698.4 603.9L1704.6 591.3L1710.9 578.6L1717.3 566L1723.7 553.3L1723.7 555.1L1723.3 558.6L1722.8 562.2L1722.1 565.7L1722 566L1720.7 571L1718.6 578.1L1718.4 578.6L1716.3 585.2L1714.2 591.3L1713.9 592.3L1709.7 603.9L1705.1 616.6L1700.4 629.3L1695.7 641.9L1691 654.6L1686.1 667.2L1681.3 679.9L1676.4 692.6L1671.4 705.2L1666.4 717.9L1661.4 730.5L1656.3 743.2L1651.2 755.9L1646 768.5L1640.8 781.2L1635.5 793.9L1630.2 806.5L1624.8 819.2L1619.4 831.8L1614 844.5L1608.5 857.2L1602.9 869.8L1597.3 882.5L1591.7 895.1L1586 907.8"/>
<path class="s" d="M1586 907.8L1593.8 888.8L1601.7 869.7L1609.6 850.7L1617.6 831.6L1625.5 812.6L1633.6 793.6L1641.7 774.5L1649.8 755.5L1658 736.5L1666.3 717.4L1674.6 698.4L1683 679.3L1691.5 660.3L1700.1 641.3L1708.8 622.2L1717.5 603.2L1726.3 584.1L1735.3 565.1L1744.3 546.1L1753.4 527L1762.6 508L1771.9 489L1781.3 469.9L1790.8 450.9L1800.5 431.8L1810.2 412.8L1820 393.8L1830 374.7L1829.9 377.4L1829.4 382.7L1828.5 388L1827.4 393.4L1827.3 393.8L1825.2 401.4L1821.9 412L1821.6 412.8L1818.2 422.7L1814.8 431.8L1814.3 433.4L1807.7 450.9L1800.3 469.9L1792.9 489L1785.3 508L1777.7 527L1770 546.1L1762.2 565.1L1754.4 584.1L1746.5 603.2L1738.5 622.2L1730.4 641.3L1722.3 660.3L1714.1 679.3L1705.8 698.4L1697.5 717.4L1689.1 736.5L1680.6 755.5L1672 774.5L1663.4 793.6L1654.7 812.6L1645.9 831.6L1637 850.7L1628.1 869.7L1619.1 888.8L1610 907.8"/>
<path class="s" d="M1610 907.8L1621 882.4L1632.1 857.1L1643.2 831.7L1654.4 806.3L1665.7 781L1677 755.6L1688.3 730.2L1699.8 704.8L1711.4 679.5L1723 654.1L1734.7 628.7L1746.6 603.4L1758.5 578L1770.6 552.6L1782.8 527.3L1795.1 501.9L1807.5 476.5L1820.1 451.2L1832.7 425.8L1845.6 400.4L1858.5 375.1L1871.6 349.7L1884.9 324.3L1898.3 298.9L1911.8 273.6L1925.5 248.2L1939.4 222.8L1953.4 197.5L1953.3 201L1952.6 208.1L1951.4 215.2L1949.8 222.3L1949.6 222.8L1946.8 233L1942.1 247.2L1941.8 248.2L1937 261.4L1932.4 273.6L1931.6 275.6L1922.5 298.9L1912.3 324.3L1902 349.7L1891.6 375.1L1881 400.4L1870.4 425.8L1859.6 451.2L1848.8 476.5L1837.9 501.9L1826.8 527.3L1815.7 552.6L1804.4 578L1793.1 603.4L1781.6 628.7L1770.1 654.1L1758.4 679.5L1746.7 704.8L1734.8 730.2L1722.8 755.6L1710.8 781L1698.6 806.3L1686.4 831.7L1674 857.1L1661.6 882.4L1649 907.8"/>
</g>
<path class="f" d="M217 120H2339.3 M2339.3 907.8H217 M238.3 120V907.8"/>
<path class="f" style="stroke-width:9" d="M2334.8 116.2V911.3"/>
<path class="f" d="M217 776.5H238.3"/>
<path class="f" d="M217 645.2H238.3"/>
<path class="f" d="M217 513.9H238.3"/>
<path class="f" d="M217 382.6H238.3"/>
<path class="f" d="M217 251.3H238.3"/>
<text x="180" y="929.8" font-size="68" text-anchor="end">0</text>
<text x="180" y="798.5" font-size="68" text-anchor="end">10</text>
<text x="180" y="667.2" font-size="68" text-anchor="end">20</text>
<text x="180" y="535.9" font-size="68" text-anchor="end">30</text>
<text x="180" y="404.6" font-size="68" text-anchor="end">40</text>
<text x="180" y="273.3" font-size="68" text-anchor="end">50</text>
<text x="180" y="142" font-size="68" text-anchor="end">60</text>
</g>
<g id="panelB">
<clipPath id="clipB"><rect x="238.3" y="1139" width="2096.5" height="792"/></clipPath>
<g clip-path="url(#clipB)">
<path class="d" d="M364.7 1770.2L360.7 1775.8L356.8 1781.5L352.9 1787.1L349 1792.7L345.2 1798.4L341.3 1804L337.5 1809.7L333.7 1815.3L329.9 1820.9L326.1 1826.6L322.4 1832.2L318.7 1837.8L315 1843.5L311.3 1849.1L307.6 1854.7L304 1860.4L300.4 1866L296.8 1871.6L293.2 1877.3L289.7 1882.9L286.1 1888.5L282.6 1894.2L279.1 1899.8L275.7 1905.5L272.2 1911.1L268.8 1916.7L265.4 1922.4L262 1928"/>
<path class="d" stroke-dashoffset="7.9" d="M364.7 1770.2L364.7 1771L364.5 1772.6L364.2 1774.1L363.8 1775.7L363.7 1775.8L363 1778.1L361.6 1781.2L361.5 1781.5L360.1 1784.4L358.7 1787.1L358.5 1787.6L355.6 1792.7L352.3 1798.4L348.9 1804L345.5 1809.7L342.1 1815.3L338.7 1820.9L335.2 1826.6L331.8 1832.2L328.3 1837.8L324.8 1843.5L321.4 1849.1L317.9 1854.7L314.4 1860.4L310.9 1866L307.4 1871.6L303.9 1877.3L300.4 1882.9L296.9 1888.5L293.3 1894.2L289.8 1899.8L286.2 1905.5L282.7 1911.1L279.1 1916.7L275.6 1922.4L272 1928"/>
<path class="d" d="M511 1574.3L499.7 1586.9L488.7 1599.5L478 1612.2L467.6 1624.8L457.5 1637.4L447.8 1650.1L438.3 1662.7L429.2 1675.3L420.3 1688L411.8 1700.6L403.5 1713.2L395.5 1725.9L387.9 1738.5L380.4 1751.1L373.3 1763.8L365.6 1776.4L357.3 1789L349 1801.7L340.8 1814.3L332.8 1826.9L324.8 1839.6L316.9 1852.2L309.1 1864.8L301.4 1877.5L293.9 1890.1L286.5 1902.7L279.2 1915.4L272 1928"/>
<path class="d" stroke-dashoffset="7.9" d="M511 1574.3L510.9 1576L510.6 1579.6L509.9 1583.1L508.9 1586.6L508.9 1586.9L507.1 1592L504.2 1599L503.9 1599.5L500.7 1606.1L497.6 1612.2L497 1613.2L490.5 1624.8L483.1 1637.4L475.6 1650.1L467.9 1662.7L460.3 1675.3L452.6 1688L444.8 1700.6L437.1 1713.2L429.3 1725.9L421.6 1738.5L413.8 1751.1L406 1763.8L398.1 1776.4L390.3 1789L382.4 1801.7L374.6 1814.3L366.7 1826.9L358.8 1839.6L350.9 1852.2L342.9 1864.8L335 1877.5L327 1890.1L319 1902.7L311 1915.4L303 1928"/>
<path class="d" d="M680.5 1403.3L658.6 1422.1L637.6 1440.8L617.4 1459.5L598 1478.3L579.6 1497L562.2 1515.7L545.9 1534.5L530.9 1553.2L517.5 1572L503 1590.7L489.1 1609.4L476 1628.2L463.3 1646.9L451.1 1665.7L439.2 1684.4L427.5 1703.1L416.1 1721.9L404.8 1740.6L393.8 1759.4L382.9 1778.1L372.2 1796.8L361.8 1815.6L351.5 1834.3L341.4 1853L331.5 1871.8L321.8 1890.5L312.3 1909.3L303 1928"/>
<path class="d" stroke-dashoffset="7.9" d="M680.5 1403.3L680.4 1405.9L679.8 1411.2L678.7 1416.4L677.3 1421.7L677.1 1422.1L674.4 1429.5L669.7 1440L669.4 1440.8L664.3 1450.5L659.3 1459.5L658.5 1461L648.2 1478.3L636.6 1497L624.7 1515.7L612.7 1534.5L600.6 1553.2L588.5 1572L576.3 1590.7L564.1 1609.4L551.9 1628.2L539.7 1646.9L527.4 1665.7L515.1 1684.4L502.8 1703.1L490.4 1721.9L478.1 1740.6L465.7 1759.4L453.3 1778.1L440.8 1796.8L428.3 1815.6L415.8 1834.3L403.3 1853L390.8 1871.8L378.2 1890.5L365.6 1909.3L353 1928"/>
<path class="d" d="M894.6 1217.9L860.2 1243.3L827.4 1268.6L796.1 1294L766.6 1319.3L738.9 1344.7L713.7 1370.1L691.6 1395.4L669.9 1420.8L649.2 1446.1L630.1 1471.5L611.9 1496.9L594.3 1522.2L577.1 1547.6L560.2 1573L543.6 1598.3L527.3 1623.7L511.2 1649L495.5 1674.4L480 1699.8L464.8 1725.1L449.8 1750.5L435.2 1775.8L420.8 1801.2L406.7 1826.6L392.8 1851.9L379.3 1877.3L366 1902.6L353 1928"/>
<path class="d" stroke-dashoffset="7.9" d="M894.6 1217.9L894.5 1221.5L893.6 1228.6L892.1 1235.7L890 1242.8L889.8 1243.3L885.9 1253.4L879.2 1267.6L878.7 1268.6L871.5 1281.8L864.4 1294L863.2 1296L848.6 1319.3L832 1344.7L815 1370.1L797.9 1395.4L780.6 1420.8L763.3 1446.1L745.9 1471.5L728.5 1496.9L711.1 1522.2L693.6 1547.6L676.1 1573L658.6 1598.3L641 1623.7L623.4 1649L605.8 1674.4L588.1 1699.8L570.4 1725.1L552.6 1750.5L534.8 1775.8L517 1801.2L499.1 1826.6L481.2 1851.9L463.3 1877.3L445.3 1902.6L427.3 1928"/>
<path class="d" d="M821 1764.9L818 1770.8L814.9 1776.6L811.9 1782.4L808.9 1788.2L806 1794.1L803 1799.9L800.1 1805.7L797.1 1811.5L794.2 1817.4L791.3 1823.2L788.5 1829L785.6 1834.8L782.7 1840.6L779.9 1846.5L777.1 1852.3L774.3 1858.1L771.5 1863.9L768.8 1869.8L766 1875.6L763.3 1881.4L760.6 1887.2L757.9 1893.1L755.2 1898.9L752.5 1904.7L749.9 1910.5L747.2 1916.4L744.6 1922.2L742 1928"/>
<path class="d" stroke-dashoffset="7.9" d="M821 1764.9L821 1765.8L820.9 1767.4L820.6 1769L820.3 1770.6L820.3 1770.8L819.7 1773.1L818.7 1776.4L818.7 1776.6L817.6 1779.6L816.5 1782.4L816.4 1782.9L814.2 1788.2L811.8 1794.1L809.2 1799.9L806.7 1805.7L804.2 1811.5L801.6 1817.4L799 1823.2L796.5 1829L793.9 1834.8L791.3 1840.6L788.7 1846.5L786.2 1852.3L783.6 1858.1L781 1863.9L778.4 1869.8L775.7 1875.6L773.1 1881.4L770.5 1887.2L767.9 1893.1L765.2 1898.9L762.6 1904.7L760 1910.5L757.3 1916.4L754.7 1922.2L752 1928"/>
<path class="d" d="M982.4 1576.9L969.2 1589.4L956.4 1602L943.9 1614.5L931.7 1627.1L919.9 1639.6L908.5 1652.1L897.4 1664.7L886.7 1677.2L876.4 1689.8L866.5 1702.3L857.2 1714.8L848.3 1727.4L840.2 1739.9L832.7 1752.4L826 1765L818.3 1777.5L811.2 1790.1L804.5 1802.6L798.3 1815.1L792.4 1827.7L786.8 1840.2L781.3 1852.8L776.1 1865.3L771 1877.8L766.1 1890.4L761.2 1902.9L756.6 1915.5L752 1928"/>
<path class="d" stroke-dashoffset="7.9" d="M982.4 1576.9L982.4 1578.7L982 1582.2L981.3 1585.7L980.4 1589.2L980.3 1589.4L978.6 1594.5L975.7 1601.5L975.4 1602L972.3 1608.5L969.2 1614.5L968.7 1615.5L962.3 1627.1L955 1639.6L947.6 1652.1L940.1 1664.7L932.5 1677.2L925 1689.8L917.4 1702.3L909.8 1714.8L902.1 1727.4L894.5 1739.9L886.8 1752.4L879.2 1765L871.5 1777.5L863.8 1790.1L856.1 1802.6L848.3 1815.1L840.6 1827.7L832.8 1840.2L825 1852.8L817.2 1865.3L809.4 1877.8L801.6 1890.4L793.7 1902.9L785.9 1915.5L778 1928"/>
<path class="d" d="M1170 1403.3L1145.9 1422.1L1122.8 1440.8L1100.5 1459.5L1079.2 1478.3L1058.9 1497L1039.7 1515.7L1021.8 1534.5L1005.4 1553.2L990.9 1572L975.9 1590.7L961.5 1609.4L948.1 1628.2L935.4 1646.9L923.2 1665.7L911.4 1684.4L899.9 1703.1L888.6 1721.9L877.5 1740.6L866.6 1759.4L856 1778.1L845.5 1796.8L835.3 1815.6L825.2 1834.3L815.4 1853L805.7 1871.8L796.3 1890.5L787 1909.3L778 1928"/>
<path class="d" stroke-dashoffset="7.9" d="M1170 1403.3L1169.9 1405.9L1169.3 1411.2L1168.2 1416.4L1166.7 1421.7L1166.6 1422.1L1163.8 1429.5L1159.1 1440L1158.8 1440.8L1153.7 1450.5L1148.7 1459.5L1147.8 1461L1137.5 1478.3L1125.7 1497L1113.7 1515.7L1101.6 1534.5L1089.4 1553.2L1077.2 1572L1064.9 1590.7L1052.6 1609.4L1040.3 1628.2L1027.9 1646.9L1015.5 1665.7L1003.1 1684.4L990.7 1703.1L978.3 1721.9L965.8 1740.6L953.3 1759.4L940.7 1778.1L928.2 1796.8L915.6 1815.6L903 1834.3L890.4 1853L877.7 1871.8L865 1890.5L852.3 1909.3L839.6 1928"/>
<path class="d" d="M1394.2 1217.9L1358.1 1243.3L1323.6 1268.6L1290.8 1294L1259.7 1319.3L1230.7 1344.7L1204.3 1370.1L1181.3 1395.4L1158.9 1420.8L1137.7 1446.1L1118.3 1471.5L1100 1496.9L1082.2 1522.2L1064.9 1547.6L1047.8 1573L1031.1 1598.3L1014.7 1623.7L998.5 1649L982.7 1674.4L967.1 1699.8L951.8 1725.1L936.8 1750.5L922 1775.8L907.6 1801.2L893.4 1826.6L879.5 1851.9L865.9 1877.3L852.6 1902.6L839.6 1928"/>
<path class="d" stroke-dashoffset="7.9" d="M1394.2 1217.9L1394.1 1221.5L1393.3 1228.6L1391.7 1235.7L1389.6 1242.8L1389.4 1243.3L1385.5 1253.4L1378.9 1267.6L1378.4 1268.6L1371.3 1281.8L1364.2 1294L1363 1296L1348.5 1319.3L1332 1344.7L1315.1 1370.1L1298.1 1395.4L1281 1420.8L1263.8 1446.1L1246.5 1471.5L1229.2 1496.9L1211.9 1522.2L1194.6 1547.6L1177.2 1573L1159.8 1598.3L1142.3 1623.7L1124.8 1649L1107.3 1674.4L1089.7 1699.8L1072.1 1725.1L1054.5 1750.5L1036.8 1775.8L1019.1 1801.2L1001.3 1826.6L983.6 1851.9L965.7 1877.3L947.9 1902.6L930 1928"/>
<path class="d" d="M1323 1755.7L1320 1761.9L1316.9 1768L1313.9 1774.2L1310.9 1780.3L1308 1786.5L1305 1792.6L1302.1 1798.8L1299.1 1805L1296.2 1811.1L1293.3 1817.3L1290.5 1823.4L1287.6 1829.6L1284.7 1835.7L1281.9 1841.9L1279.1 1848L1276.3 1854.2L1273.5 1860.3L1270.8 1866.5L1268 1872.6L1265.3 1878.8L1262.6 1884.9L1259.9 1891.1L1257.2 1897.2L1254.5 1903.4L1251.9 1909.5L1249.2 1915.7L1246.6 1921.8L1244 1928"/>
<path class="d" stroke-dashoffset="7.9" d="M1323 1755.7L1323 1756.6L1322.9 1758.3L1322.6 1760L1322.3 1761.8L1322.2 1761.9L1321.6 1764.3L1320.6 1767.8L1320.5 1768L1319.4 1771.2L1318.3 1774.2L1318.1 1774.7L1315.8 1780.3L1313.2 1786.5L1310.6 1792.6L1307.9 1798.8L1305.2 1805L1302.5 1811.1L1299.8 1817.3L1297.1 1823.4L1294.3 1829.6L1291.6 1835.7L1288.9 1841.9L1286.1 1848L1283.4 1854.2L1280.6 1860.3L1277.9 1866.5L1275.1 1872.6L1272.3 1878.8L1269.6 1884.9L1266.8 1891.1L1264 1897.2L1261.2 1903.4L1258.4 1909.5L1255.6 1915.7L1252.8 1921.8L1250 1928"/>
<path class="d" d="M1472 1573L1459.4 1585.6L1447.2 1598.3L1435.3 1611L1423.8 1623.7L1412.6 1636.4L1401.7 1649L1391.2 1661.7L1381.1 1674.4L1371.4 1687.1L1362.1 1699.8L1353.4 1712.4L1345.1 1725.1L1337.6 1737.8L1330.6 1750.5L1323.5 1763.2L1316.2 1775.8L1309.4 1788.5L1303 1801.2L1296.9 1813.9L1291 1826.6L1285.4 1839.2L1279.9 1851.9L1274.6 1864.6L1269.4 1877.3L1264.4 1890L1259.5 1902.6L1254.7 1915.3L1250 1928"/>
<path class="d" stroke-dashoffset="7.9" d="M1472 1573L1472 1574.7L1471.6 1578.3L1470.9 1581.8L1470 1585.4L1469.9 1585.6L1468.3 1590.7L1465.4 1597.8L1465.2 1598.3L1462.1 1604.9L1459.1 1611L1458.5 1612L1452.3 1623.7L1445.2 1636.4L1437.9 1649L1430.5 1661.7L1423.1 1674.4L1415.7 1687.1L1408.3 1699.8L1400.8 1712.4L1393.4 1725.1L1385.9 1737.8L1378.4 1750.5L1370.8 1763.2L1363.3 1775.8L1355.8 1788.5L1348.2 1801.2L1340.6 1813.9L1333 1826.6L1325.4 1839.2L1317.8 1851.9L1310.1 1864.6L1302.5 1877.3L1294.8 1890L1287.1 1902.6L1279.4 1915.3L1271.7 1928"/>
<path class="d" d="M1642.5 1395.4L1621 1414.4L1600.2 1433.5L1580.3 1452.5L1561.2 1471.5L1543 1490.5L1525.7 1509.5L1509.5 1528.6L1494.6 1547.6L1481.1 1566.6L1467.3 1585.6L1453.5 1604.7L1440.6 1623.7L1428.2 1642.7L1416.2 1661.7L1404.6 1680.7L1393.2 1699.8L1382 1718.8L1371 1737.8L1360.2 1756.8L1349.6 1775.8L1339.2 1794.9L1329 1813.9L1319 1832.9L1309.2 1851.9L1299.5 1870.9L1290 1890L1280.8 1909L1271.7 1928"/>
<path class="d" stroke-dashoffset="7.9" d="M1642.5 1395.4L1642.4 1398.1L1641.8 1403.4L1640.8 1408.7L1639.3 1414.1L1639.2 1414.4L1636.5 1422.1L1631.9 1432.7L1631.5 1433.5L1626.6 1443.4L1621.6 1452.5L1620.8 1454L1610.7 1471.5L1599.2 1490.5L1587.5 1509.5L1575.6 1528.6L1563.7 1547.6L1551.7 1566.6L1539.7 1585.6L1527.7 1604.7L1515.7 1623.7L1503.6 1642.7L1491.5 1661.7L1479.4 1680.7L1467.2 1699.8L1455 1718.8L1442.8 1737.8L1430.6 1756.8L1418.4 1775.8L1406.1 1794.9L1393.8 1813.9L1381.5 1832.9L1369.1 1851.9L1356.8 1870.9L1344.4 1890L1331.9 1909L1319.5 1928"/>
<path class="d" d="M1841.3 1217.9L1808 1243.3L1776.4 1268.6L1746.3 1294L1717.9 1319.3L1691.6 1344.7L1667.9 1370.1L1647.5 1395.4L1625.8 1420.8L1606.3 1446.1L1588 1471.5L1570.6 1496.9L1553.5 1522.2L1536.9 1547.6L1520.5 1573L1504.4 1598.3L1488.6 1623.7L1473 1649L1457.7 1674.4L1442.7 1699.8L1428 1725.1L1413.5 1750.5L1399.3 1775.8L1385.3 1801.2L1371.6 1826.6L1358.2 1851.9L1345 1877.3L1332.1 1902.6L1319.5 1928"/>
<path class="d" stroke-dashoffset="7.9" d="M1841.3 1217.9L1841.2 1221.5L1840.4 1228.6L1838.9 1235.7L1836.8 1242.8L1836.7 1243.3L1832.9 1253.4L1826.4 1267.6L1825.9 1268.6L1819 1281.8L1812.2 1294L1811 1296L1796.9 1319.3L1780.8 1344.7L1764.4 1370.1L1747.9 1395.4L1731.2 1420.8L1714.5 1446.1L1697.7 1471.5L1680.9 1496.9L1664.1 1522.2L1647.2 1547.6L1630.3 1573L1613.4 1598.3L1596.4 1623.7L1579.4 1649L1562.3 1674.4L1545.3 1699.8L1528.2 1725.1L1511 1750.5L1493.8 1775.8L1476.6 1801.2L1459.4 1826.6L1442.1 1851.9L1424.7 1877.3L1407.4 1902.6L1390 1928"/>
<path class="d" d="M1775 1757L1770.8 1763.2L1766.6 1769.3L1762.3 1775.4L1758.1 1781.5L1754 1787.6L1749.8 1793.7L1745.6 1799.8L1741.4 1805.9L1737.3 1812L1733.1 1818.1L1729 1824.2L1724.9 1830.3L1720.7 1836.4L1716.6 1842.5L1712.5 1848.6L1708.4 1854.7L1704.4 1860.8L1700.3 1866.9L1696.2 1873.1L1692.2 1879.2L1688.1 1885.3L1684.1 1891.4L1680 1897.5L1676 1903.6L1672 1909.7L1668 1915.8L1664 1921.9L1660 1928"/>
<path class="d" stroke-dashoffset="7.9" d="M1775 1757L1774.9 1757.9L1774.4 1759.6L1773.6 1761.3L1772.7 1763L1772.7 1763.2L1771.2 1765.6L1769.1 1769L1769 1769.3L1767 1772.4L1765.2 1775.4L1764.9 1775.9L1761.4 1781.5L1757.5 1787.6L1753.7 1793.7L1749.9 1799.8L1746 1805.9L1742.2 1812L1738.3 1818.1L1734.4 1824.2L1730.6 1830.3L1726.7 1836.4L1722.8 1842.5L1719 1848.6L1715.1 1854.7L1711.2 1860.8L1707.3 1866.9L1703.4 1873.1L1699.5 1879.2L1695.6 1885.3L1691.6 1891.4L1687.7 1897.5L1683.8 1903.6L1679.8 1909.7L1675.9 1915.8L1672 1921.9L1668 1928"/>
<path class="d" d="M1893 1579.5L1884.8 1592L1876.6 1604.4L1868.4 1616.9L1860.2 1629.3L1852 1641.8L1843.9 1654.2L1835.7 1666.6L1827.6 1679.1L1819.5 1691.5L1811.4 1704L1803.3 1716.4L1795.2 1728.9L1787.2 1741.3L1779.1 1753.8L1771.1 1766.2L1763.1 1778.7L1755.1 1791.1L1747.1 1803.5L1739.1 1816L1731.2 1828.4L1723.2 1840.9L1715.3 1853.3L1707.4 1865.8L1699.5 1878.2L1691.6 1890.7L1683.7 1903.1L1675.8 1915.6L1668 1928"/>
<path class="d" stroke-dashoffset="7.9" d="M1893 1579.5L1892.8 1581.3L1891.9 1584.8L1890.3 1588.2L1888.5 1591.7L1888.4 1592L1885.6 1596.9L1881.4 1603.9L1881.1 1604.4L1877.2 1610.9L1873.6 1616.9L1873 1617.9L1866.1 1629.3L1858.5 1641.8L1851 1654.2L1843.4 1666.6L1835.8 1679.1L1828.2 1691.5L1820.6 1704L1813 1716.4L1805.4 1728.9L1797.8 1741.3L1790.1 1753.8L1782.5 1766.2L1774.8 1778.7L1767.1 1791.1L1759.5 1803.5L1751.8 1816L1744.1 1828.4L1736.3 1840.9L1728.6 1853.3L1720.9 1865.8L1713.1 1878.2L1705.3 1890.7L1697.6 1903.1L1689.8 1915.6L1682 1928"/>
<path class="d" d="M2035.3 1396.7L2019.8 1415.7L2004.4 1434.7L1989.2 1453.7L1974.2 1472.6L1959.4 1491.6L1944.9 1510.6L1930.7 1529.6L1916.9 1548.5L1903.4 1567.5L1890.2 1586.5L1877.3 1605.4L1864.4 1624.4L1851.7 1643.4L1839.1 1662.4L1826.7 1681.3L1814.4 1700.3L1802.2 1719.3L1790.3 1738.3L1778.5 1757.2L1766.9 1776.2L1755.5 1795.2L1744.4 1814.2L1733.4 1833.1L1722.6 1852.1L1712.1 1871.1L1701.8 1890.1L1691.8 1909L1682 1928"/>
<path class="d" stroke-dashoffset="7.9" d="M2035.3 1396.7L2035.1 1399.4L2033.9 1404.7L2031.9 1410L2029.6 1415.3L2029.4 1415.7L2025.6 1423.3L2020 1433.9L2019.6 1434.7L2014.2 1444.6L2009.1 1453.7L2008.3 1455.2L1998.5 1472.6L1987.8 1491.6L1976.9 1510.6L1965.9 1529.6L1954.8 1548.5L1943.6 1567.5L1932.2 1586.5L1920.7 1605.4L1909.1 1624.4L1897.3 1643.4L1885.5 1662.4L1873.5 1681.3L1861.3 1700.3L1849.1 1719.3L1836.7 1738.3L1824.2 1757.2L1811.6 1776.2L1798.8 1795.2L1785.9 1814.2L1772.9 1833.1L1759.8 1852.1L1746.5 1871.1L1733.2 1890.1L1719.6 1909L1706 1928"/>
<path class="d" d="M2163.7 1219.2L2146.9 1244.5L2130 1269.8L2113.1 1295.2L2096.1 1320.5L2079.1 1345.8L2062 1371.1L2044.9 1396.4L2027.8 1421.7L2010.5 1447L1992.9 1472.4L1975.5 1497.7L1958.3 1523L1941.7 1548.3L1925.1 1573.6L1908.7 1598.9L1892.3 1624.2L1876 1649.5L1859.8 1674.9L1843.8 1700.2L1827.8 1725.5L1812.1 1750.8L1796.4 1776.1L1780.9 1801.4L1765.6 1826.7L1750.4 1852.1L1735.4 1877.4L1720.6 1902.7L1706 1928"/>
<path class="d" stroke-dashoffset="7.9" d="M2163.7 1219.2L2163.6 1222.8L2163 1229.8L2161.7 1236.9L2160.1 1244L2160 1244.5L2156.9 1254.7L2151.8 1268.8L2151.4 1269.8L2145.9 1283L2140.4 1295.2L2139.4 1297.2L2128.1 1320.5L2115.1 1345.8L2101.7 1371.1L2088 1396.4L2073.9 1421.7L2059.6 1447L2045.1 1472.4L2030.3 1497.7L2015.3 1523L2000 1548.3L1984.5 1573.6L1968.7 1598.9L1952.7 1624.2L1936.4 1649.5L1919.9 1674.9L1903.1 1700.2L1886.1 1725.5L1868.8 1750.8L1851.3 1776.1L1833.5 1801.4L1815.5 1826.7L1797.3 1852.1L1778.8 1877.4L1760 1902.7L1741 1928"/>
<path class="s" d="M247 1928L249.7 1921.7L252.4 1915.4L255.2 1909.1L257.9 1902.8L260.7 1896.5L263.4 1890.2L266.2 1883.9L269 1877.7L271.8 1871.4L274.6 1865.1L277.4 1858.8L280.2 1852.5L283.1 1846.2L285.9 1839.9L288.8 1833.6L291.7 1827.3L294.6 1821L297.6 1814.7L300.5 1808.4L303.5 1802.1L306.5 1795.8L309.5 1789.5L312.5 1783.3L315.6 1777L318.6 1770.7L321.7 1764.4L324.9 1758.1L328 1751.8L328 1752.7L327.7 1754.4L327.3 1756.2L326.7 1758L326.7 1758.1L325.8 1760.6L324.5 1764.1L324.4 1764.4L323.1 1767.6L321.9 1770.7L321.7 1771.2L319.5 1777L317 1783.3L314.5 1789.5L311.9 1795.8L309.4 1802.1L306.9 1808.4L304.4 1814.7L301.9 1821L299.3 1827.3L296.8 1833.6L294.2 1839.9L291.7 1846.2L289.1 1852.5L286.6 1858.8L284 1865.1L281.4 1871.4L278.8 1877.7L276.2 1883.9L273.7 1890.2L271.1 1896.5L268.5 1902.8L265.9 1909.1L263.2 1915.4L260.6 1921.7L258 1928"/>
<path class="s" d="M258 1928L262.9 1915.2L267.8 1902.5L272.8 1889.7L277.8 1876.9L282.9 1864.1L288.1 1851.4L293.3 1838.6L298.5 1825.8L303.8 1813L309.2 1800.3L314.6 1787.5L320.1 1774.7L325.6 1761.9L331.1 1749.2L336.8 1736.4L342.4 1723.6L348.2 1710.8L354 1698.1L359.8 1685.3L365.7 1672.5L371.7 1659.7L377.7 1647L383.8 1634.2L389.9 1621.4L396.1 1608.6L402.4 1595.9L408.7 1583.1L415 1570.3L414.9 1572.1L414.4 1575.7L413.5 1579.3L412.3 1582.8L412.3 1583.1L410.4 1588.2L407.7 1595.4L407.4 1595.9L404.8 1602.5L402.3 1608.6L401.9 1609.7L397.1 1621.4L391.8 1634.2L386.6 1647L381.3 1659.7L376 1672.5L370.7 1685.3L365.4 1698.1L360.1 1710.8L354.8 1723.6L349.4 1736.4L344.1 1749.2L338.7 1761.9L333.3 1774.7L328 1787.5L322.6 1800.3L317.2 1813L311.7 1825.8L306.3 1838.6L300.9 1851.4L295.4 1864.1L290 1876.9L284.5 1889.7L279 1902.5L273.5 1915.2L268 1928"/>
<path class="s" d="M268 1928L274.6 1908.8L281.4 1889.7L288.4 1870.5L295.6 1851.4L302.9 1832.2L310.4 1813L318.1 1793.9L325.9 1774.7L333.9 1755.5L342 1736.4L350.2 1717.2L358.5 1698.1L367 1678.9L375.6 1659.7L384.3 1640.6L393.1 1621.4L402 1602.3L411 1583.1L420 1563.9L429.4 1544.8L439 1525.6L448.8 1506.4L458.9 1487.3L469.2 1468.1L479.7 1449L490.4 1429.8L501.1 1410.6L512 1391.5L511.9 1394.2L511 1399.5L509.6 1404.9L507.8 1410.3L507.6 1410.6L504.7 1418.3L500.4 1429L500 1429.8L495.8 1439.8L491.8 1449L491.2 1450.5L483.6 1468.1L475.2 1487.3L466.9 1506.4L458.6 1525.6L450.2 1544.8L441.8 1563.9L433.4 1583.1L425 1602.3L416.5 1621.4L408.1 1640.6L399.6 1659.7L391.1 1678.9L382.6 1698.1L374 1717.2L365.5 1736.4L356.9 1755.5L348.3 1774.7L339.7 1793.9L331.1 1813L322.5 1832.2L313.8 1851.4L305.1 1870.5L296.4 1889.7L287.7 1908.8L279 1928"/>
<path class="s" d="M279 1928L287.9 1902.5L297.2 1877L306.7 1851.5L316.5 1826L326.5 1800.5L336.8 1775L347.4 1749.5L358.1 1724L369.1 1698.5L380.3 1673L391.7 1647.5L403.3 1622L415.1 1596.5L427 1571L439.1 1545.5L451.4 1520L463.8 1494.5L476.3 1469L488.9 1443.5L501.7 1418L514.5 1392.5L527.7 1367L541.4 1341.5L555.7 1316L570.3 1290.5L585.2 1265L600.3 1239.5L615.5 1214L615.3 1217.5L614 1224.7L611.9 1231.8L609.4 1238.9L609.2 1239.5L605 1249.7L598.7 1263.9L598.2 1265L592.1 1278.2L586.5 1290.5L585.6 1292.5L574.7 1316L562.9 1341.5L551.1 1367L539.2 1392.5L527.4 1418L515.6 1443.5L503.8 1469L492 1494.5L480.1 1520L468.3 1545.5L456.5 1571L444.7 1596.5L432.9 1622L421 1647.5L409.2 1673L397.4 1698.5L385.6 1724L373.7 1749.5L361.9 1775L350.1 1800.5L338.3 1826L326.5 1851.5L314.6 1877L302.8 1902.5L291 1928"/>
<path class="s" d="M708 1928L710.5 1921.7L713 1915.4L715.5 1909.1L718 1902.8L720.6 1896.5L723.2 1890.2L725.7 1883.9L728.3 1877.7L730.9 1871.4L733.6 1865.1L736.2 1858.8L738.9 1852.5L741.6 1846.2L744.3 1839.9L747.1 1833.6L749.9 1827.3L752.7 1821L755.5 1814.7L758.4 1808.4L761.3 1802.1L764.2 1795.8L767.2 1789.5L770.2 1783.3L773.2 1777L776.3 1770.7L779.4 1764.4L782.5 1758.1L785.7 1751.8L785.7 1752.7L785.5 1754.4L785.3 1756.2L784.9 1758L784.9 1758.1L784.2 1760.6L783.2 1764.1L783.1 1764.4L782.1 1767.6L781 1770.7L780.9 1771.2L778.8 1777L776.6 1783.3L774.3 1789.5L771.9 1795.8L769.6 1802.1L767.2 1808.4L764.8 1814.7L762.4 1821L760 1827.3L757.5 1833.6L755.1 1839.9L752.6 1846.2L750 1852.5L747.5 1858.8L744.9 1865.1L742.3 1871.4L739.7 1877.7L737.1 1883.9L734.4 1890.2L731.7 1896.5L729 1902.8L726.3 1909.1L723.6 1915.4L720.8 1921.7L718 1928"/>
<path class="s" d="M718 1928L723.1 1915.3L728.2 1902.6L733.3 1890L738.4 1877.3L743.6 1864.6L748.8 1851.9L754 1839.2L759.3 1826.6L764.6 1813.9L770 1801.2L775.4 1788.5L780.8 1775.8L786.3 1763.2L791.9 1750.5L797.5 1737.8L803.2 1725.1L808.9 1712.4L814.6 1699.8L820.5 1687.1L826.4 1674.4L832.3 1661.7L838.4 1649L844.5 1636.4L850.6 1623.7L856.9 1611L863.2 1598.3L869.5 1585.6L876 1573L876 1574.7L875.6 1578.3L875.1 1581.8L874.3 1585.4L874.3 1585.6L873 1590.7L870.9 1597.8L870.7 1598.3L868.5 1604.9L866.4 1611L866.1 1612L861.9 1623.7L857.2 1636.4L852.5 1649L847.8 1661.7L843 1674.4L838.1 1687.1L833.2 1699.8L828.2 1712.4L823.2 1725.1L818.2 1737.8L813.1 1750.5L808 1763.2L802.8 1775.8L797.6 1788.5L792.3 1801.2L787 1813.9L781.6 1826.6L776.2 1839.2L770.7 1851.9L765.2 1864.6L759.7 1877.3L754.1 1890L748.4 1902.6L742.7 1915.3L737 1928"/>
<path class="s" d="M737 1928L744.8 1908.9L752.7 1889.7L760.5 1870.6L768.4 1851.4L776.4 1832.3L784.4 1813.2L792.4 1794L800.5 1774.9L808.7 1755.8L817 1736.6L825.3 1717.5L833.7 1698.3L842.1 1679.2L850.6 1660.1L859.3 1640.9L868 1621.8L876.8 1602.7L885.6 1583.5L894.6 1564.4L903.7 1545.2L912.9 1526.1L922.1 1507L931.5 1487.8L941 1468.7L950.6 1449.6L960.3 1430.4L970.1 1411.3L980 1392.1L979.9 1394.8L979.4 1400.2L978.6 1405.5L977.4 1410.9L977.3 1411.3L975.3 1418.9L972 1429.6L971.7 1430.4L968.3 1440.4L965 1449.6L964.5 1451.1L958 1468.7L950.7 1487.8L943.4 1507L935.9 1526.1L928.4 1545.2L920.8 1564.4L913.2 1583.5L905.4 1602.7L897.6 1621.8L889.8 1640.9L881.8 1660.1L873.8 1679.2L865.7 1698.3L857.5 1717.5L849.3 1736.6L841 1755.8L832.6 1774.9L824.2 1794L815.6 1813.2L807.1 1832.3L798.4 1851.4L789.6 1870.6L780.8 1889.7L772 1908.9L763 1928"/>
<path class="s" d="M763 1928L774 1902.5L785 1876.9L796.1 1851.4L807.2 1825.9L818.4 1800.4L829.7 1774.8L841 1749.3L852.4 1723.8L863.9 1698.3L875.5 1672.7L887.2 1647.2L899 1621.7L910.9 1596.2L922.9 1570.6L935.1 1545.1L947.3 1519.6L959.7 1494.1L972.2 1468.5L984.8 1443L997.6 1417.5L1010.5 1392L1023.6 1366.4L1036.8 1340.9L1050.1 1315.4L1063.6 1289.9L1077.2 1264.3L1091 1238.8L1105 1213.3L1104.9 1216.9L1104.2 1224L1103 1231.2L1101.4 1238.3L1101.2 1238.8L1098.4 1249L1093.8 1263.3L1093.4 1264.3L1088.7 1277.6L1084.1 1289.9L1083.3 1291.9L1074.2 1315.4L1064.1 1340.9L1053.8 1366.4L1043.5 1392L1033 1417.5L1022.4 1443L1011.7 1468.5L1000.9 1494.1L990 1519.6L979 1545.1L967.9 1570.6L956.7 1596.2L945.4 1621.7L934 1647.2L922.5 1672.7L910.9 1698.3L899.2 1723.8L887.4 1749.3L875.5 1774.8L863.5 1800.4L851.4 1825.9L839.2 1851.4L826.9 1876.9L814.5 1902.5L802 1928"/>
<path class="s" d="M1212 1928L1214.6 1921.7L1217.2 1915.4L1219.8 1909.1L1222.4 1902.8L1225 1896.5L1227.6 1890.2L1230.2 1883.9L1232.9 1877.7L1235.5 1871.4L1238.2 1865.1L1240.9 1858.8L1243.6 1852.5L1246.3 1846.2L1249 1839.9L1251.7 1833.6L1254.5 1827.3L1257.3 1821L1260.1 1814.7L1262.9 1808.4L1265.7 1802.1L1268.5 1795.8L1271.4 1789.5L1274.3 1783.3L1277.2 1777L1280.1 1770.7L1283 1764.4L1286 1758.1L1289 1751.8L1289 1752.7L1288.7 1754.4L1288.3 1756.2L1287.8 1758L1287.7 1758.1L1286.9 1760.6L1285.7 1764.1L1285.6 1764.4L1284.3 1767.6L1283.2 1770.7L1283 1771.2L1280.8 1777L1278.4 1783.3L1276 1789.5L1273.6 1795.8L1271.2 1802.1L1268.8 1808.4L1266.4 1814.7L1264 1821L1261.5 1827.3L1259.1 1833.6L1256.7 1839.9L1254.2 1846.2L1251.8 1852.5L1249.3 1858.8L1246.9 1865.1L1244.4 1871.4L1241.9 1877.7L1239.5 1883.9L1237 1890.2L1234.5 1896.5L1232 1902.8L1229.5 1909.1L1227 1915.4L1224.5 1921.7L1222 1928"/>
<path class="s" d="M1222 1928L1226.6 1915.2L1231.2 1902.5L1236 1889.7L1240.8 1876.9L1245.6 1864.1L1250.5 1851.4L1255.5 1838.6L1260.6 1825.8L1265.7 1813L1270.9 1800.3L1276.1 1787.5L1281.4 1774.7L1286.7 1761.9L1292.1 1749.2L1297.6 1736.4L1303.1 1723.6L1308.7 1710.8L1314.4 1698.1L1320.2 1685.3L1326 1672.5L1331.9 1659.7L1337.9 1647L1343.9 1634.2L1350 1621.4L1356.2 1608.6L1362.4 1595.9L1368.7 1583.1L1375 1570.3L1374.9 1572.1L1374.4 1575.7L1373.5 1579.3L1372.4 1582.8L1372.3 1583.1L1370.5 1588.2L1367.8 1595.4L1367.6 1595.9L1365 1602.5L1362.5 1608.6L1362.1 1609.7L1357.4 1621.4L1352.3 1634.2L1347.1 1647L1342 1659.7L1336.8 1672.5L1331.6 1685.3L1326.4 1698.1L1321.2 1710.8L1316 1723.6L1310.8 1736.4L1305.5 1749.2L1300.3 1761.9L1295 1774.7L1289.7 1787.5L1284.4 1800.3L1279.2 1813L1273.8 1825.8L1268.5 1838.6L1263.2 1851.4L1257.9 1864.1L1252.5 1876.9L1247.2 1889.7L1241.8 1902.5L1236.4 1915.2L1231 1928"/>
<path class="s" d="M1231 1928L1237.7 1908.8L1244.5 1889.7L1251.5 1870.5L1258.6 1851.4L1265.9 1832.2L1273.3 1813L1280.8 1793.9L1288.5 1774.7L1296.3 1755.5L1304.2 1736.4L1312.2 1717.2L1320.4 1698.1L1328.6 1678.9L1337 1659.7L1345.4 1640.6L1353.9 1621.4L1362.5 1602.3L1371.2 1583.1L1379.9 1563.9L1388.9 1544.8L1398.1 1525.6L1407.5 1506.4L1417.1 1487.3L1426.9 1468.1L1436.9 1449L1446.9 1429.8L1457.1 1410.6L1467.4 1391.5L1467.3 1394.2L1466.4 1399.5L1465 1404.9L1463.3 1410.3L1463.1 1410.6L1460.3 1418.3L1456 1429L1455.7 1429.8L1451.6 1439.8L1447.7 1449L1447.1 1450.5L1439.6 1468.1L1431.5 1487.3L1423.4 1506.4L1415.2 1525.6L1407.1 1544.8L1398.9 1563.9L1390.7 1583.1L1382.5 1602.3L1374.2 1621.4L1366 1640.6L1357.7 1659.7L1349.4 1678.9L1341.1 1698.1L1332.7 1717.2L1324.4 1736.4L1316 1755.5L1307.7 1774.7L1299.3 1793.9L1290.9 1813L1282.4 1832.2L1274 1851.4L1265.5 1870.5L1257 1889.7L1248.5 1908.8L1240 1928"/>
<path class="s" d="M1240 1928L1248.7 1902.5L1257.7 1876.9L1267 1851.4L1276.5 1825.8L1286.3 1800.3L1296.4 1774.7L1306.6 1749.2L1317.2 1723.6L1327.9 1698.1L1338.8 1672.5L1350 1647L1361.3 1621.4L1372.8 1595.9L1384.4 1570.3L1396.3 1544.8L1408.3 1519.2L1420.4 1493.7L1432.6 1468.1L1445 1442.6L1457.4 1417L1470 1391.5L1482.9 1365.9L1496.4 1340.4L1510.3 1314.8L1524.7 1289.3L1539.3 1263.7L1554.1 1238.2L1569 1212.6L1568.8 1216.2L1567.8 1223.4L1566 1230.5L1563.7 1237.7L1563.5 1238.2L1559.7 1248.4L1553.7 1262.7L1553.3 1263.7L1547.4 1277L1542 1289.3L1541 1291.3L1530.4 1314.8L1518.7 1340.4L1507.1 1365.9L1495.5 1391.5L1483.8 1417L1472.2 1442.6L1460.5 1468.1L1448.9 1493.7L1437.3 1519.2L1425.6 1544.8L1414 1570.3L1402.3 1595.9L1390.7 1621.4L1379.1 1647L1367.4 1672.5L1355.8 1698.1L1344.1 1723.6L1332.5 1749.2L1320.8 1774.7L1309.2 1800.3L1297.6 1825.8L1285.9 1851.4L1274.3 1876.9L1262.6 1902.5L1251 1928"/>
<path class="s" d="M1660 1928L1664.3 1921.7L1668.5 1915.4L1672.8 1909.1L1677.1 1902.8L1681.4 1896.5L1685.7 1890.2L1690.1 1883.9L1694.4 1877.7L1698.7 1871.4L1703.1 1865.1L1707.4 1858.8L1711.8 1852.5L1716.2 1846.2L1720.6 1839.9L1725 1833.6L1729.4 1827.3L1733.8 1821L1738.2 1814.7L1742.7 1808.4L1747.1 1802.1L1751.6 1795.8L1756 1789.5L1760.5 1783.3L1765 1777L1769.5 1770.7L1774 1764.4L1778.5 1758.1L1783 1751.8L1782.9 1752.7L1782.3 1754.4L1781.4 1756.2L1780.4 1758L1780.3 1758.1L1778.8 1760.6L1776.6 1764.1L1776.4 1764.4L1774.3 1767.6L1772.4 1770.7L1772.1 1771.2L1768.4 1777L1764.4 1783.3L1760.4 1789.5L1756.4 1795.8L1752.4 1802.1L1748.3 1808.4L1744.3 1814.7L1740.2 1821L1736.2 1827.3L1732.1 1833.6L1728 1839.9L1723.9 1846.2L1719.8 1852.5L1715.7 1858.8L1711.6 1865.1L1707.5 1871.4L1703.4 1877.7L1699.2 1883.9L1695.1 1890.2L1690.9 1896.5L1686.8 1902.8L1682.6 1909.1L1678.4 1915.4L1674.2 1921.7L1670 1928"/>
<path class="s" d="M1670 1928L1677.8 1915.5L1685.6 1903L1693.5 1890.5L1701.5 1878L1709.5 1865.5L1717.7 1853L1725.9 1840.6L1734.1 1828.1L1742.5 1815.6L1750.9 1803.1L1759.3 1790.6L1767.8 1778.1L1776.4 1765.6L1785.1 1753.1L1793.8 1740.6L1802.6 1728.1L1811.5 1715.6L1820.4 1703.1L1829.5 1690.6L1838.6 1678.2L1847.8 1665.7L1857 1653.2L1866.3 1640.7L1875.7 1628.2L1885.2 1615.7L1894.7 1603.2L1904.3 1590.7L1914 1578.2L1913.8 1580L1912.6 1583.5L1910.8 1587L1908.8 1590.5L1908.7 1590.7L1905.6 1595.7L1901.3 1602.7L1900.9 1603.2L1896.8 1609.7L1893 1615.7L1892.4 1616.7L1885.1 1628.2L1877.2 1640.7L1869.2 1653.2L1861.3 1665.7L1853.3 1678.2L1845.3 1690.6L1837.3 1703.1L1829.2 1715.6L1821.2 1728.1L1813.1 1740.6L1805 1753.1L1796.9 1765.6L1788.8 1778.1L1780.7 1790.6L1772.5 1803.1L1764.3 1815.6L1756.1 1828.1L1747.9 1840.6L1739.7 1853L1731.5 1865.5L1723.2 1878L1714.9 1890.5L1706.6 1903L1698.3 1915.5L1690 1928"/>
<path class="s" d="M1690 1928L1700 1908.9L1710.4 1889.9L1721.1 1870.8L1732.1 1851.7L1743.3 1832.7L1754.9 1813.6L1766.7 1794.5L1778.8 1775.5L1791.1 1756.4L1803.6 1737.3L1816.4 1718.3L1829.4 1699.2L1842.6 1680.1L1856 1661.1L1869.5 1642L1883.2 1622.9L1897.1 1603.9L1911.1 1584.8L1925.4 1565.7L1940.1 1546.7L1955.3 1527.6L1970.9 1508.5L1986.8 1489.4L2003.2 1470.4L2019.8 1451.3L2036.6 1432.2L2053.7 1413.2L2071 1394.1L2070.9 1396.8L2070 1402.1L2068.4 1407.5L2066.5 1412.8L2066.3 1413.2L2063 1420.8L2057.8 1431.5L2057.5 1432.2L2052.3 1442.2L2047.5 1451.3L2046.7 1452.8L2037.2 1470.4L2026.6 1489.4L2015.9 1508.5L2005 1527.6L1994 1546.7L1982.7 1565.7L1971.3 1584.8L1959.8 1603.9L1948 1622.9L1936.1 1642L1924 1661.1L1911.8 1680.1L1899.4 1699.2L1886.8 1718.3L1874 1737.3L1861.1 1756.4L1848 1775.5L1834.7 1794.5L1821.2 1813.6L1807.6 1832.7L1793.8 1851.7L1779.9 1870.8L1765.8 1889.9L1751.5 1908.9L1737 1928"/>
<path class="s" d="M1737 1928L1737 1924.1L1737 1920.1L1737.1 1916.2L1737.6 1912.2L1738.7 1908.3L1740.6 1904.3L1741.6 1902.6L1743.2 1900.4L1747.7 1895.1L1752.8 1889.9L1757.8 1884.6L1761.6 1879.3L1762.7 1877.3L1776.1 1851.9L1789.9 1826.6L1804.1 1801.2L1818.6 1775.8L1833.5 1750.5L1848.7 1725.1L1864.1 1699.8L1879.8 1674.4L1895.8 1649L1912 1623.7L1928.4 1598.3L1945 1573L1961.8 1547.6L1978.8 1522.2L1996.2 1496.9L2014.1 1471.5L2032.8 1446.1L2052.3 1420.8L2072.9 1395.4L2094.6 1370.1L2117.5 1344.7L2141.4 1319.3L2166.4 1294L2192.4 1268.6L2219.4 1243.3L2247.4 1217.9L2247.3 1221.5L2246.3 1228.6L2244.7 1235.7L2242.4 1242.8L2242.2 1243.3L2238.1 1253.4L2231.4 1267.6L2230.9 1268.6L2223.8 1281.8L2216.9 1294L2215.7 1296L2201.7 1319.3L2186.1 1344.7L2170.1 1370.1L2154 1395.4L2137.7 1420.8L2121.2 1446.1L2104.6 1471.5L2087.9 1496.9L2071 1522.2L2054 1547.6L2036.8 1573L2019.5 1598.3L2002.1 1623.7L1984.5 1649L1966.7 1674.4L1948.8 1699.8L1930.8 1725.1L1912.7 1750.5L1894.3 1775.8L1875.9 1801.2L1857.3 1826.6L1838.6 1851.9L1819.7 1877.3L1800.7 1902.6L1781.5 1928"/>
</g>
<path class="f" d="M217 1139H2339.3 M2339.3 1928H217 M238.3 1139V1928"/>
<path class="f" style="stroke-width:9" d="M2334.8 1135.2V1931.5"/>
<path class="f" d="M217 1796.5H238.3"/>
<path class="f" d="M217 1665H238.3"/>
<path class="f" d="M217 1533.5H238.3"/>
<path class="f" d="M217 1402H238.3"/>
<path class="f" d="M217 1270.5H238.3"/>
<text x="180" y="1950" font-size="68" text-anchor="end">0</text>
<text x="180" y="1818.5" font-size="68" text-anchor="end">10</text>
<text x="180" y="1687" font-size="68" text-anchor="end">20</text>
<text x="180" y="1555.5" font-size="68" text-anchor="end">30</text>
<text x="180" y="1424" font-size="68" text-anchor="end">40</text>
<text x="180" y="1292.5" font-size="68" text-anchor="end">50</text>
<text x="180" y="1161" font-size="68" text-anchor="end">60</text>
</g>
<text x="1233.5" y="78.5" font-size="68" text-anchor="middle">LaCoO<tspan font-size="40" dy="15">3</tspan><tspan dy="-15"> </tspan>(#1)</text>
<text x="1234" y="1098.6" font-size="68" text-anchor="middle">LaCoO<tspan font-size="40" dy="15">3</tspan><tspan dy="-15"> </tspan>(#2)</text>
<text x="1315.7" y="989.5" font-size="68" text-anchor="middle">Strain</text>
<text x="1315.7" y="2009.5" font-size="68" text-anchor="middle">Strain</text>
<text x="75" y="529" font-size="68" text-anchor="middle" transform="rotate(-90 75 529)">Stress, MPa</text>
<text x="75" y="1549" font-size="68" text-anchor="middle" transform="rotate(-90 75 1549)">Stress, MPa</text>
<text x="668" y="185" font-size="60" text-anchor="middle">RT</text>
<text x="960.4" y="184.5" font-size="60" text-anchor="middle">400&#176;C</text>
<text x="1231.5" y="183.3" font-size="60" text-anchor="middle">700&#176;C</text>
<text x="1600" y="180.3" font-size="60" text-anchor="middle">800&#176;C</text>
<text x="2061" y="184" font-size="60" text-anchor="middle">900&#176;C</text>
<text x="741.8" y="1202.5" font-size="60" text-anchor="middle">800&#176;C</text>
<text x="1210" y="1203.3" font-size="60" text-anchor="middle">900&#176;C</text>
<text x="1677.4" y="1202.5" font-size="60" text-anchor="middle">800&#176;C</text>
<text x="2217.8" y="1202.5" font-size="60" text-anchor="middle">400&#176;C</text>
<text x="2259.6" y="865.8" font-size="94" text-anchor="middle">A</text>
<text x="2262.5" y="1885.8" font-size="94" text-anchor="middle">B</text>
</svg></body></html>
